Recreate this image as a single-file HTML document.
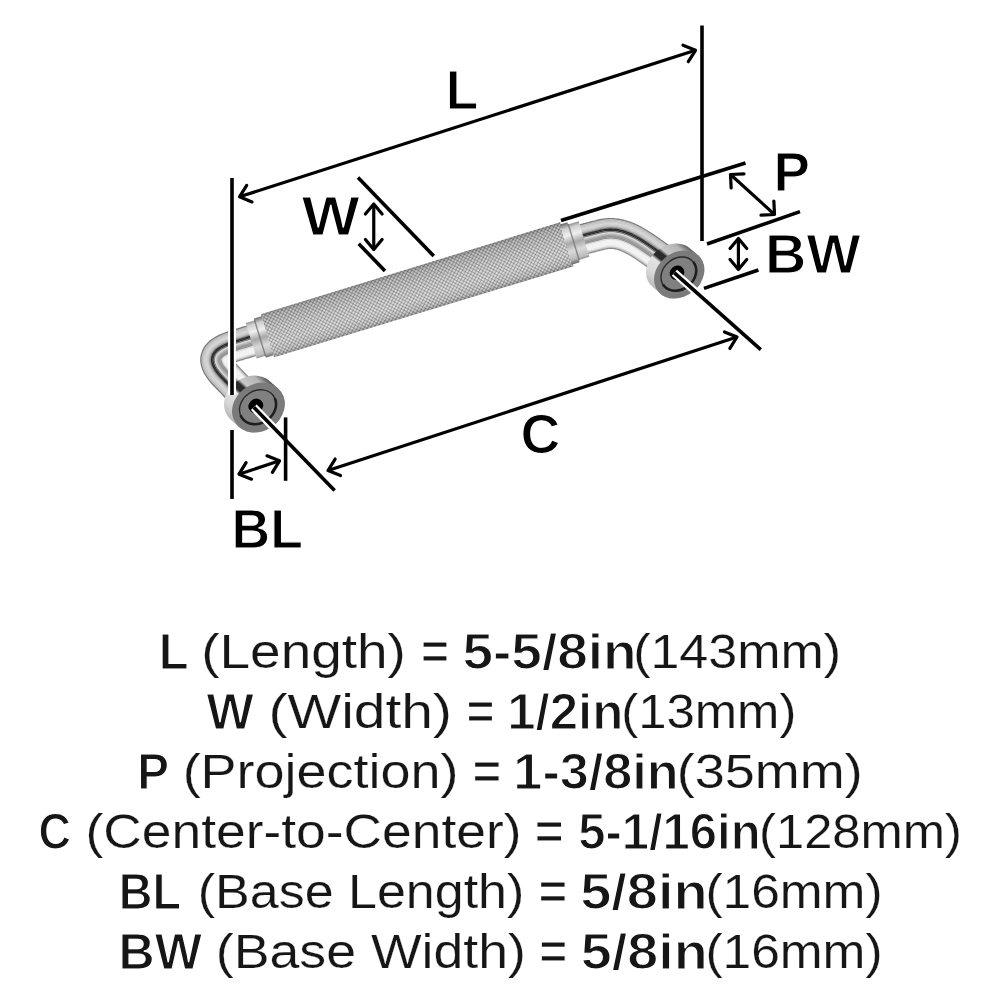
<!DOCTYPE html>
<html><head><meta charset="utf-8"><style>
html,body{margin:0;padding:0;background:#fff;}
svg{display:block;}
text{font-family:"Liberation Sans",sans-serif;}
</style></head><body>
<svg width="1000" height="1000" viewBox="0 0 1000 1000">
<rect width="1000" height="1000" fill="#fff"/>
<defs>
  <linearGradient id="knurlG" x1="0" y1="-23" x2="0" y2="23" gradientUnits="userSpaceOnUse">
    <stop offset="0" stop-color="#8c8c8c"/>
    <stop offset="0.1" stop-color="#b4b4b4"/>
    <stop offset="0.4" stop-color="#cdcdcd"/>
    <stop offset="0.7" stop-color="#d6d6d6"/>
    <stop offset="0.9" stop-color="#c4c4c4"/>
    <stop offset="1" stop-color="#929292"/>
  </linearGradient>
  <pattern id="knurlP" width="3" height="3" patternUnits="userSpaceOnUse" patternTransform="rotate(45)">
    <rect x="0" y="0" width="0.9" height="3" fill="#000" fill-opacity="0.22"/>
    <rect x="0" y="0" width="3" height="0.9" fill="#000" fill-opacity="0.22"/>
    <circle cx="1.95" cy="1.95" r="0.75" fill="#fff" fill-opacity="0.45"/>
  </pattern>
  <linearGradient id="collarG" x1="0" y1="-20" x2="0" y2="20" gradientUnits="userSpaceOnUse">
    <stop offset="0" stop-color="#777"/>
    <stop offset="0.12" stop-color="#cfcfcf"/>
    <stop offset="0.3" stop-color="#f0f0f0"/>
    <stop offset="0.5" stop-color="#a8a8a8"/>
    <stop offset="0.7" stop-color="#dadada"/>
    <stop offset="0.9" stop-color="#bdbdbd"/>
    <stop offset="1" stop-color="#777"/>
  </linearGradient>
  <linearGradient id="capSideL" x1="236" y1="424" x2="272" y2="384" gradientUnits="userSpaceOnUse">
    <stop offset="0" stop-color="#b8b8b8"/>
    <stop offset="0.2" stop-color="#d8d8d8"/>
    <stop offset="0.44" stop-color="#e2e2e2"/>
    <stop offset="0.5" stop-color="#2a2a2a"/>
    <stop offset="0.6" stop-color="#2a2a2a"/>
    <stop offset="0.66" stop-color="#c8c8c8"/>
    <stop offset="0.88" stop-color="#b4b4b4"/>
    <stop offset="1" stop-color="#5a5a5a"/>
  </linearGradient>
  <linearGradient id="capSideR" x1="658" y1="292" x2="692" y2="250" gradientUnits="userSpaceOnUse">
    <stop offset="0" stop-color="#b8b8b8"/>
    <stop offset="0.2" stop-color="#d8d8d8"/>
    <stop offset="0.44" stop-color="#e2e2e2"/>
    <stop offset="0.5" stop-color="#2a2a2a"/>
    <stop offset="0.6" stop-color="#2a2a2a"/>
    <stop offset="0.66" stop-color="#c8c8c8"/>
    <stop offset="0.88" stop-color="#b4b4b4"/>
    <stop offset="1" stop-color="#5a5a5a"/>
  </linearGradient>
</defs>
<polygon points="248.5,324.9 246.9,325.4 245.4,325.9 243.8,326.3 242.3,326.8 240.7,327.3 239.2,327.8 237.6,328.2 236.1,328.7 234.5,329.2 234.7,329.1 232.7,329.7 230.8,330.3 228.9,331 227,331.6 225.2,332.2 223.5,332.9 221.8,333.6 220.1,334.3 218.4,335.1 216.8,335.9 215.2,336.8 213.7,337.7 212.1,338.7 210.6,339.8 209.1,341.1 207.6,342.4 206.2,344 204.8,345.7 203.6,347.6 202.5,349.6 201.6,351.9 200.9,354.2 200.4,356.6 200.2,359 200.2,361.4 200.5,363.6 200.9,365.8 201.5,367.8 202.2,369.8 203,371.6 203.9,373.4 204.8,375 205.8,376.6 206.9,378.2 208,379.7 209.2,381.2 210.4,382.7 211.7,384.2 213.1,385.7 214.5,387.2 214.5,387.1 215.5,388.2 216.5,389.3 217.6,390.3 218.6,391.4 219.7,392.5 220.7,393.6 221.8,394.7 222.8,395.8 223.8,396.9 224.9,398 225.9,399 227,400.1 228,401.2 229.1,402.3 230.1,403.4 231.2,404.5 232.2,405.6 233.2,406.6 234.3,407.7 235.3,408.8 236.4,409.9 237.4,411 238.5,412.1 239.7,410.9 238.6,409.8 237.6,408.7 236.5,407.7 235.5,406.6 234.5,405.5 233.4,404.4 232.4,403.3 231.3,402.2 230.3,401.1 229.2,400 228.2,399 227.2,397.9 226.1,396.8 225.1,395.7 224,394.6 223,393.5 221.9,392.4 220.9,391.3 219.8,390.3 218.8,389.2 217.8,388.1 216.7,387 215.7,385.9 215.7,386 214.3,384.5 213,383.1 211.7,381.6 210.5,380.1 209.3,378.7 208.3,377.2 207.2,375.7 206.2,374.2 205.3,372.6 204.5,370.9 203.8,369.2 203.1,367.3 202.6,365.4 202.2,363.4 201.9,361.3 201.9,359.1 202.1,356.8 202.5,354.6 203.2,352.4 204,350.4 205,348.4 206.2,346.7 207.5,345.1 208.8,343.6 210.2,342.3 211.6,341.2 213.1,340.1 214.6,339.1 216.1,338.2 217.6,337.4 219.2,336.6 220.8,335.8 222.4,335.1 224.1,334.5 225.8,333.8 227.6,333.2 229.4,332.5 231.3,331.9 233.2,331.3 235.2,330.8 235,330.8 236.6,330.3 238.1,329.9 239.7,329.4 241.2,328.9 242.8,328.4 244.3,327.9 245.9,327.5 247.4,327 249,326.5" fill="#7c7c7c"/>
<polygon points="248.9,326.2 247.3,326.7 245.8,327.1 244.2,327.6 242.7,328.1 241.1,328.6 239.6,329 238,329.5 236.4,330 234.9,330.5 235.1,330.4 233.1,331 231.2,331.6 229.3,332.2 227.5,332.8 225.7,333.5 224,334.1 222.3,334.8 220.6,335.5 219,336.3 217.5,337.1 215.9,337.9 214.4,338.8 212.9,339.8 211.4,340.9 210,342.1 208.6,343.4 207.2,344.8 205.9,346.5 204.7,348.3 203.7,350.2 202.8,352.3 202.2,354.5 201.7,356.8 201.5,359 201.6,361.3 201.8,363.4 202.2,365.5 202.8,367.4 203.4,369.3 204.2,371 205,372.7 205.9,374.3 206.9,375.9 208,377.4 209.1,378.9 210.2,380.4 211.5,381.8 212.7,383.3 214.1,384.8 215.5,386.2 215.4,386.2 216.5,387.2 217.5,388.3 218.6,389.4 219.6,390.5 220.6,391.6 221.7,392.7 222.7,393.8 223.8,394.9 224.8,395.9 225.9,397 226.9,398.1 227.9,399.2 229,400.3 230,401.4 231.1,402.5 232.1,403.5 233.2,404.6 234.2,405.7 235.2,406.8 236.3,407.9 237.3,409 238.4,410.1 239.4,411.2 240.6,410 239.6,408.9 238.5,407.8 237.5,406.7 236.5,405.6 235.4,404.6 234.4,403.5 233.3,402.4 232.3,401.3 231.2,400.2 230.2,399.1 229.2,398 228.1,396.9 227.1,395.9 226,394.8 225,393.7 223.9,392.6 222.9,391.5 221.9,390.4 220.8,389.3 219.8,388.3 218.7,387.2 217.7,386.1 216.6,385 216.7,385.1 215.3,383.6 214,382.2 212.7,380.7 211.5,379.3 210.4,377.9 209.3,376.4 208.3,375 207.4,373.5 206.5,371.9 205.7,370.3 205,368.7 204.4,366.9 203.9,365.1 203.5,363.2 203.3,361.2 203.2,359.1 203.4,357 203.8,354.9 204.4,352.9 205.2,350.9 206.2,349.1 207.3,347.5 208.5,345.9 209.8,344.6 211.1,343.3 212.4,342.2 213.8,341.2 215.3,340.2 216.7,339.4 218.2,338.6 219.8,337.8 221.3,337.1 222.9,336.4 224.6,335.7 226.3,335.1 228,334.4 229.8,333.8 231.7,333.2 233.6,332.6 235.6,332 235.4,332.1 236.9,331.6 238.5,331.1 240.1,330.7 241.6,330.2 243.2,329.7 244.7,329.2 246.3,328.7 247.8,328.3 249.4,327.8" fill="#bdbdbd"/>
<polygon points="249.3,327.5 247.7,327.9 246.2,328.4 244.6,328.9 243.1,329.4 241.5,329.8 240,330.3 238.4,330.8 236.8,331.3 235.3,331.8 235.5,331.7 233.5,332.3 231.6,332.9 229.7,333.5 227.9,334.1 226.2,334.7 224.5,335.4 222.8,336 221.2,336.7 219.6,337.5 218.1,338.2 216.6,339.1 215.1,339.9 213.6,340.9 212.2,341.9 210.8,343.1 209.5,344.3 208.2,345.7 207,347.3 205.9,348.9 204.9,350.8 204.1,352.8 203.5,354.8 203.1,357 202.9,359.1 202.9,361.2 203.1,363.2 203.5,365.2 204,367 204.7,368.8 205.4,370.5 206.2,372.1 207.1,373.6 208,375.2 209.1,376.6 210.1,378.1 211.3,379.5 212.5,381 213.7,382.4 215.1,383.8 216.4,385.3 216.4,385.2 217.4,386.3 218.5,387.4 219.5,388.5 220.6,389.6 221.6,390.7 222.6,391.8 223.7,392.8 224.7,393.9 225.8,395 226.8,396.1 227.9,397.2 228.9,398.3 229.9,399.4 231,400.5 232,401.5 233.1,402.6 234.1,403.7 235.2,404.8 236.2,405.9 237.3,407 238.3,408.1 239.3,409.1 240.4,410.2 241.6,409.1 240.6,408 239.5,406.9 238.5,405.8 237.4,404.7 236.4,403.6 235.3,402.5 234.3,401.5 233.2,400.4 232.2,399.3 231.2,398.2 230.1,397.1 229.1,396 228,394.9 227,393.9 225.9,392.8 224.9,391.7 223.9,390.6 222.8,389.5 221.8,388.4 220.7,387.3 219.7,386.2 218.6,385.2 217.6,384.1 217.6,384.1 216.3,382.7 215,381.3 213.7,379.9 212.6,378.5 211.5,377.1 210.4,375.7 209.4,374.2 208.5,372.8 207.7,371.3 206.9,369.8 206.2,368.2 205.6,366.5 205.1,364.8 204.8,363 204.6,361.1 204.6,359.1 204.7,357.2 205.1,355.2 205.7,353.3 206.4,351.5 207.3,349.8 208.4,348.2 209.5,346.8 210.7,345.5 212,344.3 213.3,343.3 214.6,342.3 216,341.4 217.4,340.5 218.8,339.7 220.3,339 221.9,338.3 223.4,337.6 225.1,336.9 226.7,336.3 228.5,335.7 230.3,335.1 232.1,334.5 234,333.9 235.9,333.3 235.8,333.4 237.3,332.9 238.9,332.4 240.4,331.9 242,331.5 243.6,331 245.1,330.5 246.7,330 248.2,329.5 249.8,329.1" fill="#c6c6c6"/>
<polygon points="249.7,328.7 248.1,329.2 246.6,329.7 245,330.2 243.5,330.6 241.9,331.1 240.3,331.6 238.8,332.1 237.2,332.6 235.7,333 235.8,333 233.9,333.6 232,334.2 230.1,334.7 228.4,335.4 226.6,336 224.9,336.6 223.3,337.3 221.7,338 220.2,338.7 218.7,339.4 217.2,340.2 215.8,341.1 214.4,342 213,343 211.7,344.1 210.4,345.3 209.2,346.6 208.1,348 207,349.6 206.1,351.4 205.3,353.2 204.8,355.1 204.4,357.1 204.2,359.1 204.2,361.1 204.4,363 204.8,364.9 205.3,366.6 205.9,368.3 206.6,369.9 207.4,371.5 208.2,373 209.2,374.4 210.1,375.9 211.2,377.3 212.3,378.7 213.5,380.1 214.7,381.5 216,382.9 217.4,384.4 217.3,384.3 218.4,385.4 219.4,386.5 220.5,387.6 221.5,388.7 222.6,389.7 223.6,390.8 224.6,391.9 225.7,393 226.7,394.1 227.8,395.2 228.8,396.3 229.9,397.4 230.9,398.4 232,399.5 233,400.6 234,401.7 235.1,402.8 236.1,403.9 237.2,405 238.2,406 239.3,407.1 240.3,408.2 241.3,409.3 242.6,408.1 241.5,407.1 240.5,406 239.4,404.9 238.4,403.8 237.3,402.7 236.3,401.6 235.3,400.5 234.2,399.4 233.2,398.4 232.1,397.3 231.1,396.2 230,395.1 229,394 227.9,392.9 226.9,391.8 225.9,390.8 224.8,389.7 223.8,388.6 222.7,387.5 221.7,386.4 220.6,385.3 219.6,384.2 218.6,383.1 218.6,383.2 217.3,381.8 216,380.4 214.8,379 213.6,377.6 212.5,376.3 211.5,374.9 210.6,373.5 209.7,372.1 208.9,370.7 208.1,369.2 207.5,367.7 206.9,366.1 206.4,364.5 206.1,362.8 205.9,361 205.9,359.2 206,357.4 206.4,355.5 206.9,353.8 207.6,352.1 208.5,350.5 209.4,349 210.5,347.7 211.6,346.5 212.8,345.3 214.1,344.3 215.4,343.4 216.7,342.5 218.1,341.7 219.5,340.9 220.9,340.2 222.4,339.5 224,338.8 225.6,338.2 227.2,337.6 228.9,336.9 230.7,336.3 232.5,335.8 234.4,335.2 236.3,334.6 236.2,334.6 237.7,334.2 239.3,333.7 240.8,333.2 242.4,332.7 243.9,332.2 245.5,331.8 247.1,331.3 248.6,330.8 250.2,330.3" fill="#cecece"/>
<polygon points="250.1,330 248.5,330.5 247,331 245.4,331.4 243.8,331.9 242.3,332.4 240.7,332.9 239.2,333.3 237.6,333.8 236.1,334.3 236.2,334.3 234.3,334.8 232.4,335.4 230.6,336 228.8,336.6 227.1,337.2 225.4,337.9 223.8,338.5 222.3,339.2 220.8,339.9 219.3,340.6 217.9,341.4 216.5,342.2 215.2,343.1 213.9,344 212.6,345.1 211.4,346.2 210.2,347.5 209.2,348.8 208.2,350.3 207.3,351.9 206.6,353.7 206,355.5 205.7,357.3 205.5,359.2 205.6,361 205.8,362.8 206.1,364.6 206.6,366.2 207.1,367.8 207.8,369.3 208.6,370.8 209.4,372.3 210.3,373.7 211.2,375.1 212.2,376.5 213.3,377.8 214.5,379.2 215.7,380.6 217,382 218.4,383.4 218.3,383.4 219.3,384.5 220.4,385.6 221.4,386.6 222.5,387.7 223.5,388.8 224.6,389.9 225.6,391 226.7,392.1 227.7,393.2 228.7,394.3 229.8,395.3 230.8,396.4 231.9,397.5 232.9,398.6 234,399.7 235,400.8 236,401.9 237.1,403 238.1,404 239.2,405.1 240.2,406.2 241.3,407.3 242.3,408.4 243.5,407.2 242.5,406.1 241.4,405 240.4,404 239.3,402.9 238.3,401.8 237.3,400.7 236.2,399.6 235.2,398.5 234.1,397.4 233.1,396.4 232,395.3 231,394.2 230,393.1 228.9,392 227.9,390.9 226.8,389.8 225.8,388.7 224.7,387.7 223.7,386.6 222.6,385.5 221.6,384.4 220.6,383.3 219.5,382.2 219.6,382.3 218.2,380.9 217,379.5 215.8,378.1 214.6,376.8 213.6,375.4 212.6,374.1 211.7,372.8 210.8,371.4 210,370 209.3,368.6 208.7,367.2 208.2,365.7 207.7,364.2 207.4,362.6 207.2,360.9 207.2,359.2 207.4,357.5 207.7,355.9 208.2,354.2 208.8,352.6 209.6,351.2 210.5,349.8 211.5,348.6 212.6,347.4 213.7,346.3 214.9,345.4 216.1,344.5 217.4,343.6 218.7,342.8 220.1,342.1 221.5,341.4 223,340.7 224.5,340.1 226,339.4 227.7,338.8 229.3,338.2 231.1,337.6 232.9,337 234.8,336.4 236.7,335.9 236.6,335.9 238.1,335.4 239.7,335 241.2,334.5 242.8,334 244.3,333.5 245.9,333 247.5,332.6 249,332.1 250.6,331.6" fill="#d6d6d6"/>
<polygon points="250.5,331.3 248.9,331.8 247.3,332.2 245.8,332.7 244.2,333.2 242.7,333.7 241.1,334.1 239.6,334.6 238,335.1 236.5,335.6 236.6,335.5 234.7,336.1 232.8,336.7 231,337.3 229.2,337.9 227.5,338.5 225.9,339.1 224.3,339.7 222.8,340.4 221.3,341.1 219.9,341.8 218.5,342.5 217.2,343.3 215.9,344.2 214.7,345.1 213.5,346.1 212.3,347.2 211.2,348.3 210.2,349.6 209.3,351 208.5,352.5 207.8,354.1 207.3,355.8 207,357.5 206.9,359.2 206.9,360.9 207.1,362.6 207.4,364.2 207.8,365.8 208.4,367.3 209,368.8 209.7,370.2 210.5,371.6 211.4,373 212.3,374.3 213.3,375.7 214.4,377 215.5,378.4 216.7,379.7 218,381.1 219.3,382.5 219.3,382.5 220.3,383.6 221.4,384.6 222.4,385.7 223.4,386.8 224.5,387.9 225.5,389 226.6,390.1 227.6,391.2 228.7,392.2 229.7,393.3 230.7,394.4 231.8,395.5 232.8,396.6 233.9,397.7 234.9,398.8 236,399.9 237,400.9 238,402 239.1,403.1 240.1,404.2 241.2,405.3 242.2,406.4 243.3,407.5 244.5,406.3 243.4,405.2 242.4,404.1 241.4,403 240.3,402 239.3,400.9 238.2,399.8 237.2,398.7 236.1,397.6 235.1,396.5 234,395.4 233,394.3 232,393.3 230.9,392.2 229.9,391.1 228.8,390 227.8,388.9 226.7,387.8 225.7,386.7 224.7,385.6 223.6,384.6 222.6,383.5 221.5,382.4 220.5,381.3 220.5,381.3 219.2,380 218,378.6 216.8,377.3 215.7,375.9 214.6,374.6 213.7,373.3 212.8,372 212,370.7 211.2,369.4 210.5,368.1 209.9,366.7 209.4,365.3 209,363.8 208.7,362.4 208.6,360.8 208.6,359.3 208.7,357.7 209,356.2 209.4,354.7 210,353.2 210.8,351.9 211.6,350.6 212.5,349.4 213.5,348.3 214.6,347.4 215.7,346.4 216.9,345.6 218.1,344.8 219.4,344 220.7,343.3 222.1,342.6 223.5,341.9 225,341.3 226.5,340.7 228.1,340.1 229.8,339.5 231.5,338.9 233.3,338.3 235.1,337.7 237.1,337.2 237,337.2 238.5,336.7 240.1,336.2 241.6,335.8 243.2,335.3 244.7,334.8 246.3,334.3 247.8,333.8 249.4,333.4 251,332.9" fill="#cccccc"/>
<polygon points="250.9,332.6 249.3,333 247.7,333.5 246.2,334 244.6,334.5 243.1,334.9 241.5,335.4 240,335.9 238.4,336.4 236.9,336.9 237,336.8 235,337.4 233.2,338 231.4,338.5 229.7,339.1 228,339.7 226.4,340.3 224.9,341 223.4,341.6 221.9,342.3 220.5,343 219.2,343.7 217.9,344.5 216.7,345.3 215.5,346.2 214.4,347.1 213.3,348.1 212.3,349.2 211.3,350.4 210.5,351.7 209.7,353.1 209.1,354.5 208.6,356.1 208.3,357.7 208.2,359.3 208.2,360.9 208.4,362.4 208.7,363.9 209.1,365.4 209.6,366.8 210.2,368.2 210.9,369.6 211.7,370.9 212.5,372.2 213.4,373.5 214.4,374.8 215.4,376.2 216.5,377.5 217.7,378.8 218.9,380.2 220.3,381.6 220.2,381.5 221.3,382.6 222.3,383.7 223.4,384.8 224.4,385.9 225.4,387 226.5,388.1 227.5,389.1 228.6,390.2 229.6,391.3 230.7,392.4 231.7,393.5 232.8,394.6 233.8,395.7 234.8,396.8 235.9,397.8 236.9,398.9 238,400 239,401.1 240.1,402.2 241.1,403.3 242.1,404.4 243.2,405.5 244.2,406.5 245.4,405.4 244.4,404.3 243.4,403.2 242.3,402.1 241.3,401 240.2,399.9 239.2,398.9 238.1,397.8 237.1,396.7 236.1,395.6 235,394.5 234,393.4 232.9,392.3 231.9,391.2 230.8,390.2 229.8,389.1 228.7,388 227.7,386.9 226.7,385.8 225.6,384.7 224.6,383.6 223.5,382.5 222.5,381.5 221.4,380.4 221.5,380.4 220.2,379 218.9,377.7 217.8,376.4 216.7,375.1 215.7,373.8 214.8,372.6 213.9,371.3 213.1,370 212.4,368.8 211.7,367.5 211.2,366.2 210.7,364.9 210.3,363.5 210.1,362.2 209.9,360.8 209.9,359.3 210,357.9 210.3,356.5 210.7,355.1 211.2,353.8 211.9,352.5 212.7,351.4 213.5,350.3 214.5,349.3 215.5,348.4 216.5,347.5 217.6,346.7 218.8,345.9 220,345.2 221.3,344.5 222.7,343.8 224,343.1 225.5,342.5 227,341.9 228.6,341.3 230.2,340.7 231.9,340.1 233.7,339.6 235.5,339 237.4,338.4 237.3,338.5 238.9,338 240.5,337.5 242,337 243.6,336.6 245.1,336.1 246.7,335.6 248.2,335.1 249.8,334.6 251.3,334.2" fill="#bcbcbc"/>
<polygon points="251.2,333.8 249.7,334.3 248.1,334.8 246.6,335.3 245,335.7 243.5,336.2 241.9,336.7 240.4,337.2 238.8,337.6 237.2,338.1 237.3,338.1 235.4,338.7 233.6,339.2 231.8,339.8 230.1,340.4 228.5,341 226.9,341.6 225.4,342.2 223.9,342.8 222.5,343.5 221.2,344.2 219.9,344.9 218.6,345.6 217.4,346.4 216.3,347.2 215.2,348.1 214.2,349 213.3,350.1 212.4,351.2 211.6,352.4 210.9,353.6 210.4,355 209.9,356.4 209.7,357.9 209.5,359.3 209.6,360.8 209.7,362.2 210,363.6 210.4,365 210.9,366.3 211.4,367.6 212.1,368.9 212.8,370.2 213.6,371.5 214.5,372.8 215.4,374 216.4,375.3 217.5,376.6 218.7,377.9 219.9,379.3 221.2,380.6 221.2,380.6 222.2,381.7 223.3,382.8 224.3,383.9 225.4,385 226.4,386.1 227.5,387.1 228.5,388.2 229.5,389.3 230.6,390.4 231.6,391.5 232.7,392.6 233.7,393.7 234.8,394.7 235.8,395.8 236.8,396.9 237.9,398 238.9,399.1 240,400.2 241,401.3 242.1,402.4 243.1,403.4 244.1,404.5 245.2,405.6 246.4,404.5 245.4,403.4 244.3,402.3 243.3,401.2 242.2,400.1 241.2,399 240.1,397.9 239.1,396.8 238.1,395.8 237,394.7 236,393.6 234.9,392.5 233.9,391.4 232.8,390.3 231.8,389.2 230.8,388.1 229.7,387.1 228.7,386 227.6,384.9 226.6,383.8 225.5,382.7 224.5,381.6 223.4,380.5 222.4,379.5 222.4,379.5 221.1,378.1 219.9,376.8 218.8,375.5 217.7,374.3 216.8,373 215.9,371.8 215,370.6 214.3,369.4 213.6,368.1 213,366.9 212.4,365.7 212,364.5 211.6,363.2 211.4,362 211.2,360.7 211.2,359.4 211.3,358.1 211.6,356.8 211.9,355.6 212.4,354.4 213,353.2 213.7,352.2 214.5,351.2 215.4,350.2 216.3,349.4 217.3,348.5 218.4,347.8 219.5,347 220.7,346.3 221.9,345.6 223.2,345 224.6,344.4 226,343.7 227.5,343.1 229.1,342.6 230.7,342 232.4,341.4 234.1,340.8 235.9,340.3 237.8,339.7 237.7,339.7 239.3,339.3 240.8,338.8 242.4,338.3 244,337.8 245.5,337.3 247.1,336.9 248.6,336.4 250.2,335.9 251.7,335.4" fill="#8f8f8f"/>
<polygon points="251.6,335.1 250.1,335.6 248.5,336.1 247,336.5 245.4,337 243.9,337.5 242.3,338 240.7,338.4 239.2,338.9 237.6,339.4 237.7,339.4 235.8,339.9 234,340.5 232.2,341.1 230.6,341.6 228.9,342.2 227.4,342.8 225.9,343.4 224.5,344 223.1,344.7 221.8,345.3 220.5,346 219.3,346.7 218.2,347.5 217.1,348.3 216.1,349.1 215.2,350 214.3,350.9 213.5,352 212.7,353.1 212.1,354.2 211.6,355.4 211.2,356.7 211,358 210.9,359.4 210.9,360.7 211,362 211.3,363.3 211.6,364.6 212.1,365.8 212.6,367.1 213.3,368.3 214,369.5 214.7,370.8 215.6,372 216.5,373.2 217.5,374.5 218.5,375.8 219.7,377 220.9,378.4 222.2,379.7 222.2,379.7 223.2,380.8 224.2,381.9 225.3,383 226.3,384 227.4,385.1 228.4,386.2 229.5,387.3 230.5,388.4 231.5,389.5 232.6,390.6 233.6,391.7 234.7,392.7 235.7,393.8 236.8,394.9 237.8,396 238.8,397.1 239.9,398.2 240.9,399.3 242,400.3 243,401.4 244.1,402.5 245.1,403.6 246.2,404.7 247.4,403.5 246.3,402.4 245.3,401.4 244.2,400.3 243.2,399.2 242.1,398.1 241.1,397 240.1,395.9 239,394.8 238,393.7 236.9,392.7 235.9,391.6 234.8,390.5 233.8,389.4 232.8,388.3 231.7,387.2 230.7,386.1 229.6,385 228.6,384 227.5,382.9 226.5,381.8 225.5,380.7 224.4,379.6 223.4,378.5 223.4,378.5 222.1,377.2 220.9,375.9 219.8,374.7 218.8,373.4 217.8,372.2 216.9,371 216.1,369.8 215.4,368.7 214.7,367.5 214.2,366.4 213.7,365.2 213.3,364.1 212.9,362.9 212.7,361.8 212.6,360.6 212.6,359.4 212.7,358.3 212.9,357.1 213.2,356 213.6,354.9 214.2,353.9 214.8,352.9 215.6,352 216.4,351.2 217.2,350.4 218.2,349.6 219.2,348.9 220.2,348.2 221.4,347.5 222.6,346.8 223.8,346.2 225.1,345.6 226.5,345 228,344.4 229.5,343.8 231.1,343.2 232.8,342.7 234.5,342.1 236.3,341.6 238.2,341 238.1,341 239.7,340.5 241.2,340.1 242.8,339.6 244.4,339.1 245.9,338.6 247.5,338.1 249,337.7 250.6,337.2 252.1,336.7" fill="#2e2e2e"/>
<polygon points="252,336.4 250.5,336.9 248.9,337.3 247.4,337.8 245.8,338.3 244.2,338.8 242.7,339.2 241.1,339.7 239.6,340.2 238,340.7 238.1,340.7 236.2,341.2 234.4,341.8 232.7,342.3 231,342.9 229.4,343.5 227.9,344.1 226.4,344.7 225,345.3 223.7,345.9 222.4,346.5 221.2,347.2 220,347.9 219,348.6 217.9,349.3 217,350.1 216.1,350.9 215.3,351.8 214.5,352.7 213.9,353.7 213.3,354.8 212.9,355.9 212.5,357 212.3,358.2 212.2,359.4 212.2,360.6 212.4,361.8 212.6,363 212.9,364.2 213.3,365.3 213.8,366.5 214.4,367.7 215.1,368.8 215.8,370 216.7,371.2 217.5,372.4 218.5,373.6 219.6,374.9 220.7,376.2 221.9,377.5 223.1,378.8 223.1,378.8 224.2,379.9 225.2,380.9 226.2,382 227.3,383.1 228.3,384.2 229.4,385.3 230.4,386.4 231.5,387.5 232.5,388.6 233.5,389.6 234.6,390.7 235.6,391.8 236.7,392.9 237.7,394 238.8,395.1 239.8,396.2 240.9,397.2 241.9,398.3 242.9,399.4 244,400.5 245,401.6 246.1,402.7 247.1,403.8 248.3,402.6 247.3,401.5 246.2,400.4 245.2,399.3 244.2,398.3 243.1,397.2 242.1,396.1 241,395 240,393.9 238.9,392.8 237.9,391.7 236.9,390.6 235.8,389.6 234.8,388.5 233.7,387.4 232.7,386.3 231.6,385.2 230.6,384.1 229.5,383 228.5,382 227.5,380.9 226.4,379.8 225.4,378.7 224.3,377.6 224.3,377.6 223.1,376.3 221.9,375 220.8,373.8 219.8,372.6 218.9,371.4 218,370.2 217.2,369.1 216.5,368 215.9,366.9 215.4,365.8 214.9,364.7 214.5,363.7 214.2,362.6 214,361.6 213.9,360.5 213.9,359.5 214,358.4 214.2,357.4 214.5,356.5 214.8,355.5 215.3,354.6 215.9,353.7 216.6,352.9 217.3,352.1 218.1,351.4 219,350.6 219.9,350 220.9,349.3 222,348.6 223.2,348 224.4,347.4 225.7,346.8 227,346.2 228.5,345.6 230,345.1 231.5,344.5 233.2,343.9 234.9,343.4 236.7,342.8 238.6,342.3 238.5,342.3 240.1,341.8 241.6,341.3 243.2,340.9 244.7,340.4 246.3,339.9 247.9,339.4 249.4,338.9 251,338.5 252.5,338" fill="#2e2e2e"/>
<polygon points="252.4,337.7 250.9,338.1 249.3,338.6 247.8,339.1 246.2,339.6 244.6,340 243.1,340.5 241.5,341 240,341.5 238.4,342 238.5,341.9 236.6,342.5 234.8,343 233.1,343.6 231.4,344.2 229.9,344.7 228.3,345.3 226.9,345.9 225.5,346.5 224.2,347.1 223,347.7 221.8,348.3 220.8,349 219.7,349.7 218.8,350.4 217.9,351.1 217,351.9 216.3,352.7 215.6,353.5 215,354.4 214.5,355.4 214.1,356.3 213.8,357.3 213.6,358.4 213.5,359.5 213.6,360.5 213.7,361.6 213.9,362.7 214.2,363.8 214.6,364.9 215.1,365.9 215.6,367 216.2,368.2 216.9,369.3 217.7,370.4 218.6,371.6 219.5,372.8 220.6,374 221.7,375.3 222.8,376.5 224.1,377.9 224.1,377.8 225.1,378.9 226.2,380 227.2,381.1 228.3,382.2 229.3,383.3 230.3,384.4 231.4,385.5 232.4,386.5 233.5,387.6 234.5,388.7 235.6,389.8 236.6,390.9 237.6,392 238.7,393.1 239.7,394.2 240.8,395.2 241.8,396.3 242.9,397.4 243.9,398.5 244.9,399.6 246,400.7 247,401.8 248.1,402.8 249.3,401.7 248.2,400.6 247.2,399.5 246.2,398.4 245.1,397.3 244.1,396.2 243,395.2 242,394.1 240.9,393 239.9,391.9 238.9,390.8 237.8,389.7 236.8,388.6 235.7,387.6 234.7,386.5 233.6,385.4 232.6,384.3 231.6,383.2 230.5,382.1 229.5,381 228.4,379.9 227.4,378.9 226.3,377.8 225.3,376.7 225.3,376.7 224.1,375.4 222.9,374.1 221.8,372.9 220.9,371.7 219.9,370.6 219.1,369.5 218.4,368.4 217.7,367.3 217.1,366.2 216.6,365.2 216.1,364.2 215.8,363.3 215.5,362.3 215.3,361.3 215.2,360.4 215.2,359.5 215.3,358.6 215.5,357.7 215.7,356.9 216.1,356.1 216.5,355.3 217,354.5 217.6,353.8 218.2,353.1 219,352.4 219.8,351.7 220.7,351 221.6,350.4 222.7,349.8 223.8,349.2 225,348.6 226.2,348 227.6,347.4 229,346.9 230.4,346.3 232,345.8 233.6,345.2 235.3,344.7 237.1,344.1 238.9,343.6 238.9,343.6 240.5,343.1 242,342.6 243.6,342.1 245.1,341.6 246.7,341.2 248.2,340.7 249.8,340.2 251.4,339.7 252.9,339.3" fill="#7f7f7f"/>
<polygon points="252.8,338.9 251.3,339.4 249.7,339.9 248.1,340.4 246.6,340.8 245,341.3 243.5,341.8 241.9,342.3 240.4,342.7 238.8,343.2 238.8,343.2 237,343.8 235.2,344.3 233.5,344.9 231.9,345.4 230.3,346 228.8,346.5 227.4,347.1 226.1,347.7 224.8,348.3 223.6,348.9 222.5,349.5 221.5,350.1 220.5,350.8 219.6,351.4 218.7,352.1 218,352.8 217.3,353.5 216.7,354.3 216.2,355.1 215.7,355.9 215.4,356.8 215.1,357.7 214.9,358.6 214.9,359.5 214.9,360.4 215,361.4 215.2,362.4 215.5,363.4 215.8,364.4 216.3,365.4 216.8,366.4 217.4,367.5 218.1,368.6 218.8,369.7 219.7,370.8 220.6,372 221.6,373.1 222.7,374.4 223.8,375.6 225,376.9 225,376.9 226.1,378 227.1,379.1 228.2,380.2 229.2,381.3 230.3,382.4 231.3,383.4 232.3,384.5 233.4,385.6 234.4,386.7 235.5,387.8 236.5,388.9 237.6,390 238.6,391.1 239.6,392.1 240.7,393.2 241.7,394.3 242.8,395.4 243.8,396.5 244.9,397.6 245.9,398.7 247,399.7 248,400.8 249,401.9 250.3,400.8 249.2,399.7 248.2,398.6 247.1,397.5 246.1,396.4 245,395.3 244,394.2 242.9,393.1 241.9,392.1 240.9,391 239.8,389.9 238.8,388.8 237.7,387.7 236.7,386.6 235.6,385.5 234.6,384.5 233.6,383.4 232.5,382.3 231.5,381.2 230.4,380.1 229.4,379 228.3,377.9 227.3,376.8 226.3,375.8 226.3,375.8 225,374.5 223.9,373.3 222.9,372.1 221.9,370.9 221,369.8 220.2,368.7 219.5,367.6 218.8,366.6 218.3,365.6 217.8,364.7 217.4,363.7 217.1,362.8 216.8,362 216.6,361.1 216.6,360.3 216.6,359.6 216.6,358.8 216.8,358.1 217,357.3 217.3,356.7 217.6,356 218.1,355.3 218.6,354.6 219.2,354 219.9,353.4 220.6,352.8 221.4,352.1 222.4,351.5 223.3,351 224.4,350.4 225.6,349.8 226.8,349.2 228.1,348.7 229.4,348.1 230.9,347.6 232.4,347 234,346.5 235.7,345.9 237.5,345.4 239.3,344.8 239.3,344.8 240.9,344.4 242.4,343.9 244,343.4 245.5,342.9 247.1,342.4 248.6,342 250.2,341.5 251.7,341 253.3,340.5" fill="#d8d8d8"/>
<polygon points="253.2,340.2 251.6,340.7 250.1,341.2 248.5,341.6 247,342.1 245.4,342.6 243.9,343.1 242.3,343.5 240.8,344 239.2,344.5 239.2,344.5 237.4,345 235.6,345.6 233.9,346.1 232.3,346.7 230.8,347.2 229.3,347.8 227.9,348.3 226.6,348.9 225.4,349.5 224.2,350.1 223.2,350.7 222.2,351.2 221.2,351.9 220.4,352.5 219.6,353.1 218.9,353.8 218.3,354.4 217.8,355.1 217.3,355.8 216.9,356.5 216.6,357.2 216.4,358 216.3,358.8 216.2,359.5 216.2,360.4 216.3,361.2 216.5,362.1 216.7,363 217.1,363.9 217.5,364.8 218,365.8 218.5,366.8 219.2,367.8 219.9,368.9 220.7,370 221.6,371.1 222.6,372.3 223.6,373.5 224.8,374.7 226,376 226,376 227,377.1 228.1,378.2 229.1,379.3 230.2,380.3 231.2,381.4 232.3,382.5 233.3,383.6 234.3,384.7 235.4,385.8 236.4,386.9 237.5,388 238.5,389 239.6,390.1 240.6,391.2 241.7,392.3 242.7,393.4 243.7,394.5 244.8,395.6 245.8,396.7 246.9,397.7 247.9,398.8 249,399.9 250,401 251.2,399.8 250.2,398.7 249.1,397.7 248.1,396.6 247,395.5 246,394.4 245,393.3 243.9,392.2 242.9,391.1 241.8,390.1 240.8,389 239.7,387.9 238.7,386.8 237.6,385.7 236.6,384.6 235.6,383.5 234.5,382.4 233.5,381.4 232.4,380.3 231.4,379.2 230.3,378.1 229.3,377 228.3,375.9 227.2,374.8 227.2,374.8 226,373.6 224.9,372.4 223.9,371.2 222.9,370.1 222.1,369 221.3,367.9 220.6,366.9 220,365.9 219.4,365 219,364.1 218.6,363.2 218.3,362.4 218.1,361.7 218,360.9 217.9,360.3 217.9,359.6 217.9,359 218,358.4 218.2,357.8 218.5,357.2 218.8,356.7 219.1,356.1 219.6,355.5 220.1,354.9 220.7,354.4 221.4,353.8 222.2,353.2 223.1,352.7 224,352.1 225,351.6 226.1,351 227.3,350.4 228.6,349.9 229.9,349.4 231.4,348.8 232.9,348.3 234.5,347.7 236.1,347.2 237.9,346.7 239.7,346.1 239.7,346.1 241.2,345.6 242.8,345.2 244.4,344.7 245.9,344.2 247.5,343.7 249,343.2 250.6,342.8 252.1,342.3 253.7,341.8" fill="#bbbbbb"/>
<polygon points="253.6,341.5 252,342 250.5,342.4 248.9,342.9 247.4,343.4 245.8,343.9 244.3,344.3 242.7,344.8 241.1,345.3 239.6,345.8 239.6,345.8 237.8,346.3 236,346.9 234.3,347.4 232.8,347.9 231.2,348.5 229.8,349 228.5,349.6 227.2,350.1 226,350.7 224.9,351.2 223.8,351.8 222.9,352.4 222,353 221.2,353.5 220.5,354.1 219.9,354.7 219.3,355.3 218.9,355.9 218.5,356.5 218.1,357.1 217.9,357.7 217.7,358.3 217.6,358.9 217.5,359.6 217.5,360.3 217.6,361 217.8,361.8 218,362.5 218.3,363.4 218.7,364.2 219.1,365.2 219.7,366.1 220.3,367.1 221,368.1 221.8,369.2 222.6,370.3 223.6,371.4 224.6,372.6 225.8,373.8 227,375.1 227,375.1 228,376.2 229,377.3 230.1,378.3 231.1,379.4 232.2,380.5 233.2,381.6 234.3,382.7 235.3,383.8 236.4,384.9 237.4,385.9 238.4,387 239.5,388.1 240.5,389.2 241.6,390.3 242.6,391.4 243.7,392.5 244.7,393.6 245.7,394.6 246.8,395.7 247.8,396.8 248.9,397.9 249.9,399 251,400.1 252.2,398.9 251.1,397.8 250.1,396.7 249,395.6 248,394.6 247,393.5 245.9,392.4 244.9,391.3 243.8,390.2 242.8,389.1 241.7,388 240.7,387 239.7,385.9 238.6,384.8 237.6,383.7 236.5,382.6 235.5,381.5 234.4,380.4 233.4,379.3 232.4,378.3 231.3,377.2 230.3,376.1 229.2,375 228.2,373.9 228.2,373.9 227,372.7 225.9,371.5 224.9,370.3 224,369.2 223.1,368.2 222.4,367.1 221.7,366.2 221.1,365.2 220.6,364.4 220.2,363.5 219.9,362.8 219.6,362 219.4,361.4 219.3,360.7 219.2,360.2 219.2,359.6 219.3,359.2 219.3,358.7 219.5,358.2 219.7,357.8 219.9,357.3 220.2,356.9 220.6,356.4 221.1,355.9 221.6,355.4 222.2,354.9 223,354.3 223.8,353.8 224.7,353.3 225.6,352.7 226.7,352.2 227.9,351.7 229.1,351.1 230.4,350.6 231.8,350.1 233.3,349.5 234.9,349 236.5,348.5 238.2,347.9 240,347.4 240.1,347.4 241.6,346.9 243.2,346.4 244.8,346 246.3,345.5 247.9,345 249.4,344.5 251,344 252.5,343.6 254.1,343.1" fill="#9f9f9f"/>
<polygon points="254,342.7 252.4,343.2 250.9,343.7 249.3,344.2 247.8,344.7 246.2,345.1 244.6,345.6 243.1,346.1 241.5,346.6 240,347 239.9,347.1 238.1,347.6 236.4,348.1 234.8,348.7 233.2,349.2 231.7,349.7 230.3,350.3 229,350.8 227.7,351.3 226.6,351.9 225.5,352.4 224.5,353 223.6,353.5 222.8,354 222,354.6 221.4,355.1 220.8,355.6 220.3,356.2 219.9,356.7 219.6,357.2 219.3,357.6 219.1,358.1 219,358.6 218.9,359.1 218.9,359.6 218.9,360.2 218.9,360.8 219.1,361.4 219.3,362.1 219.5,362.9 219.9,363.7 220.3,364.5 220.8,365.4 221.4,366.4 222.1,367.3 222.8,368.4 223.7,369.4 224.6,370.5 225.6,371.7 226.7,372.9 227.9,374.1 227.9,374.2 229,375.2 230,376.3 231.1,377.4 232.1,378.5 233.1,379.6 234.2,380.7 235.2,381.8 236.3,382.8 237.3,383.9 238.4,385 239.4,386.1 240.4,387.2 241.5,388.3 242.5,389.4 243.6,390.5 244.6,391.5 245.7,392.6 246.7,393.7 247.7,394.8 248.8,395.9 249.8,397 250.9,398.1 251.9,399.2 253.1,398 252.1,396.9 251.1,395.8 250,394.7 249,393.6 247.9,392.6 246.9,391.5 245.8,390.4 244.8,389.3 243.7,388.2 242.7,387.1 241.7,386 240.6,384.9 239.6,383.9 238.5,382.8 237.5,381.7 236.4,380.6 235.4,379.5 234.4,378.4 233.3,377.3 232.3,376.2 231.2,375.2 230.2,374.1 229.1,373 229.1,373 228,371.7 226.9,370.6 225.9,369.5 225,368.4 224.2,367.3 223.4,366.4 222.8,365.4 222.3,364.5 221.8,363.7 221.4,363 221.1,362.3 220.9,361.6 220.7,361 220.6,360.5 220.6,360.1 220.5,359.7 220.6,359.3 220.6,359 220.7,358.7 220.9,358.4 221.1,358 221.3,357.7 221.6,357.3 222,356.8 222.5,356.4 223.1,355.9 223.7,355.4 224.5,354.9 225.3,354.4 226.3,353.9 227.3,353.4 228.4,352.9 229.6,352.4 230.9,351.8 232.3,351.3 233.7,350.8 235.3,350.3 236.9,349.7 238.6,349.2 240.4,348.7 240.5,348.7 242,348.2 243.6,347.7 245.1,347.2 246.7,346.7 248.3,346.3 249.8,345.8 251.4,345.3 252.9,344.8 254.5,344.4" fill="#949494"/>
<polygon points="254.4,344 252.8,344.5 251.3,345 249.7,345.5 248.2,345.9 246.6,346.4 245,346.9 243.5,347.4 241.9,347.8 240.4,348.3 240.3,348.3 238.5,348.9 236.8,349.4 235.2,349.9 233.6,350.5 232.2,351 230.8,351.5 229.5,352 228.3,352.6 227.1,353.1 226.1,353.6 225.1,354.1 224.3,354.6 223.5,355.1 222.8,355.6 222.3,356.1 221.8,356.6 221.3,357 221,357.4 220.8,357.8 220.6,358.2 220.4,358.6 220.3,358.9 220.2,359.3 220.2,359.7 220.2,360.1 220.3,360.6 220.4,361.1 220.5,361.7 220.8,362.4 221.1,363.1 221.5,363.9 222,364.7 222.5,365.6 223.2,366.6 223.9,367.6 224.7,368.6 225.6,369.7 226.6,370.8 227.7,372 228.9,373.2 228.9,373.2 229.9,374.3 231,375.4 232,376.5 233.1,377.6 234.1,378.7 235.1,379.8 236.2,380.8 237.2,381.9 238.3,383 239.3,384.1 240.4,385.2 241.4,386.3 242.5,387.4 243.5,388.4 244.5,389.5 245.6,390.6 246.6,391.7 247.7,392.8 248.7,393.9 249.8,395 250.8,396.1 251.8,397.1 252.9,398.2 254.1,397.1 253.1,396 252,394.9 251,393.8 249.9,392.7 248.9,391.6 247.8,390.5 246.8,389.5 245.8,388.4 244.7,387.3 243.7,386.2 242.6,385.1 241.6,384 240.5,382.9 239.5,381.8 238.4,380.8 237.4,379.7 236.4,378.6 235.3,377.5 234.3,376.4 233.2,375.3 232.2,374.2 231.1,373.2 230.1,372.1 230.1,372 228.9,370.8 227.9,369.7 226.9,368.6 226,367.5 225.2,366.5 224.5,365.6 223.9,364.7 223.4,363.9 223,363.1 222.6,362.4 222.3,361.8 222.1,361.2 222,360.7 221.9,360.3 221.9,360 221.9,359.7 221.9,359.5 221.9,359.3 222,359.1 222.1,358.9 222.2,358.7 222.4,358.4 222.6,358.1 223,357.8 223.4,357.4 223.9,357 224.5,356.5 225.2,356.1 226,355.6 226.9,355.1 227.9,354.6 229,354.1 230.1,353.6 231.4,353.1 232.7,352.6 234.2,352.1 235.7,351.5 237.3,351 239,350.5 240.8,350 240.9,349.9 242.4,349.5 244,349 245.5,348.5 247.1,348 248.6,347.5 250.2,347.1 251.8,346.6 253.3,346.1 254.9,345.6" fill="#949494"/>
<polygon points="254.8,345.3 253.2,345.8 251.7,346.3 250.1,346.7 248.5,347.2 247,347.7 245.4,348.2 243.9,348.6 242.3,349.1 240.8,349.6 240.7,349.6 238.9,350.1 237.2,350.7 235.6,351.2 234.1,351.7 232.6,352.2 231.3,352.8 230,353.3 228.8,353.8 227.7,354.3 226.7,354.8 225.8,355.3 225,355.8 224.3,356.2 223.7,356.7 223.1,357.1 222.7,357.5 222.4,357.9 222.1,358.2 221.9,358.5 221.8,358.8 221.7,359 221.6,359.2 221.6,359.5 221.5,359.7 221.5,360 221.6,360.4 221.7,360.8 221.8,361.3 222,361.9 222.3,362.5 222.7,363.3 223.1,364 223.6,364.9 224.2,365.8 225,366.7 225.8,367.8 226.6,368.8 227.6,369.9 228.7,371.1 229.8,372.3 229.8,372.3 230.9,373.4 231.9,374.5 233,375.6 234,376.7 235.1,377.7 236.1,378.8 237.2,379.9 238.2,381 239.2,382.1 240.3,383.2 241.3,384.3 242.4,385.3 243.4,386.4 244.5,387.5 245.5,388.6 246.5,389.7 247.6,390.8 248.6,391.9 249.7,393 250.7,394 251.8,395.1 252.8,396.2 253.8,397.3 255.1,396.1 254,395.1 253,394 251.9,392.9 250.9,391.8 249.8,390.7 248.8,389.6 247.8,388.5 246.7,387.4 245.7,386.4 244.6,385.3 243.6,384.2 242.5,383.1 241.5,382 240.5,380.9 239.4,379.8 238.4,378.7 237.3,377.7 236.3,376.6 235.2,375.5 234.2,374.4 233.1,373.3 232.1,372.2 231.1,371.1 231,371.1 229.9,369.9 228.9,368.8 227.9,367.7 227.1,366.7 226.3,365.7 225.6,364.8 225,364 224.5,363.2 224.1,362.5 223.8,361.8 223.6,361.3 223.4,360.8 223.3,360.4 223.2,360.1 223.2,359.9 223.2,359.8 223.2,359.7 223.2,359.6 223.2,359.6 223.3,359.5 223.3,359.4 223.5,359.2 223.6,359 223.9,358.7 224.2,358.4 224.7,358 225.2,357.6 225.9,357.2 226.6,356.7 227.5,356.3 228.4,355.8 229.5,355.3 230.6,354.8 231.9,354.3 233.2,353.8 234.6,353.3 236.1,352.8 237.7,352.3 239.4,351.8 241.2,351.2 241.3,351.2 242.8,350.7 244.4,350.3 245.9,349.8 247.5,349.3 249,348.8 250.6,348.3 252.1,347.9 253.7,347.4 255.3,346.9" fill="#dbdbdb"/>
<polygon points="255.2,346.6 253.6,347.1 252,347.5 250.5,348 248.9,348.5 247.4,349 245.8,349.4 244.3,349.9 242.7,350.4 241.2,350.9 241.1,350.9 239.3,351.4 237.6,351.9 236,352.5 234.5,353 233.1,353.5 231.8,354 230.5,354.5 229.4,355 228.3,355.5 227.3,356 226.5,356.4 225.7,356.9 225,357.3 224.5,357.7 224,358.1 223.6,358.5 223.4,358.8 223.2,359 223,359.2 223,359.4 222.9,359.5 222.9,359.6 222.9,359.6 222.9,359.8 222.9,359.9 222.9,360.2 223,360.5 223.1,360.9 223.2,361.4 223.5,362 223.8,362.6 224.2,363.4 224.7,364.2 225.3,365 226,365.9 226.8,366.9 227.6,367.9 228.6,369 229.6,370.2 230.8,371.4 230.8,371.4 231.9,372.5 232.9,373.6 233.9,374.6 235,375.7 236,376.8 237.1,377.9 238.1,379 239.2,380.1 240.2,381.2 241.2,382.3 242.3,383.3 243.3,384.4 244.4,385.5 245.4,386.6 246.5,387.7 247.5,388.8 248.5,389.9 249.6,390.9 250.6,392 251.7,393.1 252.7,394.2 253.8,395.3 254.8,396.4 256,395.2 255,394.1 253.9,393 252.9,392 251.8,390.9 250.8,389.8 249.8,388.7 248.7,387.6 247.7,386.5 246.6,385.4 245.6,384.3 244.5,383.3 243.5,382.2 242.5,381.1 241.4,380 240.4,378.9 239.3,377.8 238.3,376.7 237.2,375.7 236.2,374.6 235.2,373.5 234.1,372.4 233.1,371.3 232,370.2 232,370.2 230.9,369 229.9,367.9 228.9,366.8 228.1,365.8 227.4,364.9 226.7,364 226.1,363.2 225.7,362.5 225.3,361.8 225,361.3 224.8,360.8 224.7,360.4 224.6,360.1 224.6,359.9 224.5,359.8 224.5,359.8 224.5,359.9 224.5,360 224.5,360 224.5,360.1 224.5,360.1 224.5,360 224.6,359.9 224.8,359.7 225.1,359.4 225.5,359.1 226,358.7 226.6,358.3 227.3,357.9 228.1,357.5 229,357 230,356.5 231.2,356.1 232.4,355.6 233.7,355.1 235.1,354.6 236.6,354.1 238.1,353.6 239.8,353 241.5,352.5 241.7,352.5 243.2,352 244.8,351.5 246.3,351 247.9,350.6 249.4,350.1 251,349.6 252.5,349.1 254.1,348.7 255.7,348.2" fill="#f1f1f1"/>
<polygon points="255.5,347.8 254,348.3 252.4,348.8 250.9,349.3 249.3,349.8 247.8,350.2 246.2,350.7 244.7,351.2 243.1,351.7 241.5,352.1 241.4,352.2 239.7,352.7 238,353.2 236.4,353.7 234.9,354.2 233.5,354.7 232.2,355.2 231,355.7 229.9,356.2 228.9,356.7 228,357.2 227.1,357.6 226.4,358 225.8,358.4 225.3,358.8 224.9,359.1 224.6,359.4 224.4,359.6 224.3,359.8 224.2,359.9 224.2,359.9 224.2,359.9 224.2,359.9 224.2,359.8 224.2,359.8 224.2,359.9 224.2,360 224.3,360.2 224.3,360.5 224.5,360.9 224.7,361.4 225,362 225.4,362.7 225.9,363.4 226.4,364.2 227.1,365.1 227.8,366.1 228.7,367.1 229.6,368.1 230.6,369.3 231.7,370.4 231.8,370.5 232.8,371.5 233.9,372.6 234.9,373.7 235.9,374.8 237,375.9 238,377 239.1,378.1 240.1,379.2 241.2,380.2 242.2,381.3 243.2,382.4 244.3,383.5 245.3,384.6 246.4,385.7 247.4,386.8 248.5,387.9 249.5,388.9 250.6,390 251.6,391.1 252.6,392.2 253.7,393.3 254.7,394.4 255.8,395.5 257,394.3 255.9,393.2 254.9,392.1 253.9,391 252.8,389.9 251.8,388.9 250.7,387.8 249.7,386.7 248.6,385.6 247.6,384.5 246.6,383.4 245.5,382.3 244.5,381.3 243.4,380.2 242.4,379.1 241.3,378 240.3,376.9 239.2,375.8 238.2,374.7 237.2,373.6 236.1,372.6 235.1,371.5 234,370.4 233,369.3 232.9,369.2 231.8,368.1 230.8,367 229.9,366 229.1,365 228.4,364.1 227.8,363.3 227.3,362.5 226.8,361.8 226.5,361.2 226.2,360.7 226.1,360.3 225.9,360 225.9,359.8 225.9,359.7 225.9,359.8 225.9,359.9 225.9,360.1 225.8,360.3 225.8,360.5 225.7,360.7 225.6,360.8 225.6,360.8 225.7,360.7 225.8,360.6 226,360.4 226.3,360.1 226.8,359.8 227.3,359.5 228,359.1 228.7,358.6 229.6,358.2 230.6,357.8 231.7,357.3 232.9,356.8 234.1,356.3 235.5,355.8 237,355.3 238.5,354.8 240.2,354.3 241.9,353.8 242,353.8 243.6,353.3 245.2,352.8 246.7,352.3 248.3,351.8 249.8,351.4 251.4,350.9 252.9,350.4 254.5,349.9 256,349.5" fill="#f2f2f2"/>
<polygon points="255.9,349.1 254.4,349.6 252.8,350.1 251.3,350.6 249.7,351 248.2,351.5 246.6,352 245.1,352.5 243.5,352.9 241.9,353.4 241.8,353.5 240.1,354 238.4,354.5 236.9,355 235.4,355.5 234,356 232.7,356.5 231.5,357 230.4,357.4 229.5,357.9 228.6,358.3 227.8,358.8 227.1,359.2 226.6,359.5 226.1,359.9 225.8,360.1 225.5,360.4 225.4,360.5 225.3,360.6 225.3,360.6 225.4,360.5 225.4,360.4 225.5,360.2 225.5,360 225.5,359.9 225.5,359.8 225.5,359.8 225.5,359.9 225.6,360.1 225.7,360.4 225.9,360.8 226.2,361.4 226.5,362 227,362.7 227.5,363.5 228.1,364.3 228.9,365.2 229.7,366.2 230.6,367.2 231.6,368.3 232.7,369.5 232.7,369.5 233.8,370.6 234.8,371.7 235.9,372.8 236.9,373.9 238,375 239,376.1 240,377.1 241.1,378.2 242.1,379.3 243.2,380.4 244.2,381.5 245.3,382.6 246.3,383.7 247.3,384.8 248.4,385.8 249.4,386.9 250.5,388 251.5,389.1 252.6,390.2 253.6,391.3 254.6,392.4 255.7,393.4 256.7,394.5 257.9,393.4 256.9,392.3 255.9,391.2 254.8,390.1 253.8,389 252.7,387.9 251.7,386.8 250.6,385.8 249.6,384.7 248.6,383.6 247.5,382.5 246.5,381.4 245.4,380.3 244.4,379.2 243.3,378.2 242.3,377.1 241.3,376 240.2,374.9 239.2,373.8 238.1,372.7 237.1,371.6 236,370.5 235,369.5 233.9,368.4 233.9,368.3 232.8,367.2 231.8,366.1 231,365.1 230.2,364.2 229.5,363.3 228.9,362.5 228.4,361.8 228,361.1 227.7,360.6 227.4,360.1 227.3,359.8 227.2,359.6 227.2,359.5 227.2,359.5 227.2,359.7 227.2,359.9 227.2,360.2 227.1,360.6 227,360.9 226.9,361.2 226.8,361.4 226.7,361.6 226.7,361.6 226.7,361.5 226.9,361.4 227.1,361.2 227.5,360.9 228,360.6 228.6,360.2 229.3,359.8 230.2,359.4 231.1,359 232.2,358.5 233.3,358 234.6,357.6 235.9,357.1 237.4,356.6 238.9,356.1 240.6,355.6 242.3,355.1 242.4,355 244,354.6 245.5,354.1 247.1,353.6 248.7,353.1 250.2,352.6 251.8,352.2 253.3,351.7 254.9,351.2 256.4,350.7" fill="#f2f2f2"/>
<polygon points="256.3,350.4 254.8,350.9 253.2,351.4 251.7,351.8 250.1,352.3 248.6,352.8 247,353.3 245.4,353.7 243.9,354.2 242.3,354.7 242.2,354.7 240.5,355.3 238.8,355.8 237.3,356.3 235.8,356.8 234.5,357.2 233.2,357.7 232,358.2 231,358.6 230,359.1 229.2,359.5 228.5,359.9 227.8,360.3 227.3,360.6 226.9,360.9 226.6,361.1 226.5,361.3 226.4,361.4 226.4,361.4 226.5,361.3 226.6,361.1 226.7,360.8 226.8,360.5 226.8,360.2 226.9,359.9 226.9,359.7 226.8,359.6 226.8,359.6 226.9,359.7 227,359.9 227.1,360.3 227.4,360.7 227.7,361.3 228.1,362 228.6,362.7 229.2,363.5 229.9,364.4 230.7,365.3 231.6,366.4 232.6,367.4 233.6,368.6 233.7,368.6 234.7,369.7 235.8,370.8 236.8,371.9 237.9,373 238.9,374 240,375.1 241,376.2 242,377.3 243.1,378.4 244.1,379.5 245.2,380.6 246.2,381.7 247.3,382.7 248.3,383.8 249.3,384.9 250.4,386 251.4,387.1 252.5,388.2 253.5,389.3 254.6,390.4 255.6,391.4 256.7,392.5 257.7,393.6 258.9,392.4 257.9,391.4 256.8,390.3 255.8,389.2 254.7,388.1 253.7,387 252.6,385.9 251.6,384.8 250.6,383.8 249.5,382.7 248.5,381.6 247.4,380.5 246.4,379.4 245.3,378.3 244.3,377.2 243.3,376.1 242.2,375.1 241.2,374 240.1,372.9 239.1,371.8 238,370.7 237,369.6 236,368.5 234.9,367.4 234.9,367.4 233.8,366.3 232.8,365.2 232,364.2 231.2,363.3 230.5,362.5 230,361.7 229.5,361 229.1,360.4 228.8,359.9 228.6,359.6 228.5,359.3 228.5,359.2 228.5,359.2 228.5,359.3 228.5,359.6 228.5,360 228.5,360.4 228.4,360.9 228.3,361.4 228.1,361.8 227.9,362.1 227.8,362.4 227.7,362.5 227.7,362.5 227.8,362.4 228,362.2 228.3,362 228.7,361.7 229.3,361.4 230,361 230.8,360.6 231.7,360.2 232.7,359.7 233.8,359.3 235.1,358.8 236.4,358.3 237.8,357.9 239.3,357.4 241,356.9 242.7,356.4 242.8,356.3 244.4,355.8 245.9,355.4 247.5,354.9 249,354.4 250.6,353.9 252.2,353.4 253.7,353 255.3,352.5 256.8,352" fill="#f3f3f3"/>
<polygon points="256.7,351.7 255.2,352.1 253.6,352.6 252.1,353.1 250.5,353.6 248.9,354.1 247.4,354.5 245.8,355 244.3,355.5 242.7,356 242.6,356 240.8,356.5 239.2,357 237.7,357.5 236.3,358 234.9,358.5 233.7,359 232.6,359.4 231.5,359.9 230.6,360.3 229.8,360.7 229.1,361.1 228.5,361.4 228.1,361.7 227.7,362 227.5,362.1 227.4,362.2 227.4,362.2 227.5,362.2 227.6,361.9 227.8,361.6 227.9,361.3 228.1,360.8 228.2,360.4 228.2,360 228.2,359.6 228.2,359.4 228.1,359.3 228.1,359.3 228.2,359.4 228.3,359.7 228.5,360.1 228.8,360.6 229.2,361.2 229.7,361.9 230.3,362.7 230.9,363.5 231.7,364.5 232.6,365.5 233.5,366.5 234.6,367.6 234.7,367.7 235.7,368.8 236.7,369.9 237.8,371 238.8,372 239.9,373.1 240.9,374.2 242,375.3 243,376.4 244,377.5 245.1,378.6 246.1,379.6 247.2,380.7 248.2,381.8 249.3,382.9 250.3,384 251.4,385.1 252.4,386.2 253.4,387.3 254.5,388.3 255.5,389.4 256.6,390.5 257.6,391.6 258.7,392.7 259.9,391.5 258.8,390.4 257.8,389.3 256.7,388.3 255.7,387.2 254.7,386.1 253.6,385 252.6,383.9 251.5,382.8 250.5,381.7 249.4,380.7 248.4,379.6 247.3,378.5 246.3,377.4 245.3,376.3 244.2,375.2 243.2,374.1 242.1,373 241.1,372 240,370.9 239,369.8 238,368.7 236.9,367.6 235.9,366.5 235.8,366.5 234.8,365.4 233.8,364.3 233,363.4 232.2,362.5 231.6,361.7 231,360.9 230.6,360.3 230.3,359.7 230,359.3 229.9,359 229.8,358.8 229.8,358.8 229.8,358.9 229.8,359.1 229.9,359.5 229.9,360 229.8,360.6 229.7,361.2 229.5,361.8 229.3,362.4 229.1,362.8 228.8,363.1 228.7,363.3 228.6,363.4 228.6,363.4 228.8,363.3 229,363.1 229.4,362.8 229.9,362.5 230.6,362.2 231.3,361.8 232.2,361.4 233.2,361 234.3,360.5 235.5,360.1 236.8,359.6 238.2,359.1 239.7,358.6 241.3,358.1 243,357.6 243.2,357.6 244.8,357.1 246.3,356.6 247.9,356.1 249.4,355.7 251,355.2 252.6,354.7 254.1,354.2 255.7,353.8 257.2,353.3" fill="#e8e8e8"/>
<polygon points="257.1,352.9 255.6,353.4 254,353.9 252.4,354.4 250.9,354.9 249.3,355.3 247.8,355.8 246.2,356.3 244.7,356.8 243.1,357.2 242.9,357.3 241.2,357.8 239.6,358.3 238.1,358.8 236.7,359.3 235.4,359.7 234.2,360.2 233.1,360.7 232.1,361.1 231.2,361.5 230.4,361.9 229.8,362.2 229.2,362.5 228.8,362.8 228.6,363 228.4,363.1 228.4,363.2 228.4,363.1 228.6,362.9 228.8,362.6 229,362.2 229.2,361.7 229.4,361.1 229.5,360.5 229.5,360 229.5,359.5 229.5,359.2 229.4,358.9 229.4,358.9 229.4,358.9 229.5,359.1 229.7,359.5 230,359.9 230.3,360.5 230.8,361.1 231.3,361.9 232,362.7 232.7,363.6 233.6,364.6 234.5,365.6 235.6,366.7 235.6,366.8 236.7,367.9 237.7,368.9 238.7,370 239.8,371.1 240.8,372.2 241.9,373.3 242.9,374.4 244,375.5 245,376.5 246.1,377.6 247.1,378.7 248.1,379.8 249.2,380.9 250.2,382 251.3,383.1 252.3,384.2 253.4,385.2 254.4,386.3 255.4,387.4 256.5,388.5 257.5,389.6 258.6,390.7 259.6,391.8 260.8,390.6 259.8,389.5 258.7,388.4 257.7,387.3 256.7,386.3 255.6,385.2 254.6,384.1 253.5,383 252.5,381.9 251.4,380.8 250.4,379.7 249.4,378.6 248.3,377.6 247.3,376.5 246.2,375.4 245.2,374.3 244.1,373.2 243.1,372.1 242.1,371 241,369.9 240,368.9 238.9,367.8 237.9,366.7 236.8,365.6 236.8,365.5 235.7,364.5 234.8,363.4 234,362.5 233.3,361.6 232.6,360.9 232.1,360.2 231.7,359.6 231.4,359.1 231.2,358.7 231.1,358.4 231,358.3 231,358.4 231.1,358.6 231.1,358.9 231.2,359.4 231.2,360.1 231.1,360.8 231,361.5 230.8,362.3 230.5,362.9 230.2,363.5 229.9,363.9 229.7,364.2 229.6,364.4 229.5,364.4 229.6,364.3 229.8,364.2 230.1,364 230.6,363.7 231.2,363.4 231.9,363 232.8,362.6 233.7,362.2 234.8,361.8 236,361.3 237.3,360.9 238.7,360.4 240.1,359.9 241.7,359.4 243.4,358.9 243.6,358.9 245.2,358.4 246.7,357.9 248.3,357.4 249.8,356.9 251.4,356.5 252.9,356 254.5,355.5 256.1,355 257.6,354.6" fill="#c9c9c9"/>
<polygon points="257.5,354.2 256,354.7 254.4,355.2 252.8,355.7 251.3,356.1 249.7,356.6 248.2,357.1 246.6,357.6 245.1,358 243.5,358.5 243.3,358.6 241.6,359.1 240,359.6 238.5,360.1 237.1,360.5 235.9,361 234.7,361.4 233.6,361.9 232.6,362.3 231.8,362.7 231,363.1 230.4,363.4 230,363.7 229.6,363.9 229.4,364.1 229.3,364.2 229.3,364.1 229.4,364 229.6,363.7 229.9,363.3 230.2,362.8 230.5,362.2 230.7,361.4 230.8,360.7 230.9,360 230.9,359.4 230.8,359 230.7,358.6 230.7,358.5 230.7,358.4 230.7,358.6 230.9,358.8 231.1,359.2 231.4,359.8 231.8,360.4 232.4,361.1 233,361.9 233.7,362.7 234.6,363.7 235.5,364.7 236.5,365.8 236.6,365.8 237.6,366.9 238.7,368 239.7,369.1 240.8,370.2 241.8,371.3 242.8,372.4 243.9,373.5 244.9,374.5 246,375.6 247,376.7 248.1,377.8 249.1,378.9 250.1,380 251.2,381.1 252.2,382.1 253.3,383.2 254.3,384.3 255.4,385.4 256.4,386.5 257.4,387.6 258.5,388.7 259.5,389.8 260.6,390.8 261.5,389.9 260.5,388.8 259.5,387.7 258.4,386.7 257.4,385.6 256.3,384.5 255.3,383.4 254.2,382.3 253.2,381.2 252.2,380.1 251.1,379 250.1,378 249,376.9 248,375.8 246.9,374.7 245.9,373.6 244.8,372.5 243.8,371.4 242.8,370.4 241.7,369.3 240.7,368.2 239.6,367.1 238.6,366 237.5,364.9 237.5,364.8 236.5,363.8 235.5,362.8 234.7,361.9 234,361 233.4,360.3 232.9,359.6 232.5,359 232.2,358.6 232.1,358.2 231.9,358 231.9,358 232,358.1 232,358.3 232.1,358.8 232.2,359.4 232.2,360.1 232.1,360.9 232,361.8 231.7,362.6 231.4,363.4 231.1,364 230.7,364.5 230.4,364.9 230.2,365.1 230.2,365.2 230.2,365.1 230.4,365 230.7,364.8 231.1,364.6 231.7,364.2 232.3,363.9 233.2,363.5 234.1,363.1 235.2,362.7 236.3,362.2 237.6,361.8 239,361.3 240.4,360.8 242,360.4 243.7,359.9 243.9,359.8 245.5,359.3 247,358.8 248.6,358.4 250.1,357.9 251.7,357.4 253.2,356.9 254.8,356.5 256.3,356 257.9,355.5" fill="#8c8c8c"/>
<polygon points="579.2,224.3 580.7,223.9 582.3,223.5 583.8,223.1 585.4,222.7 586.9,222.3 588.5,221.9 590,221.5 591.6,221.1 593.1,220.8 594.7,220.4 596.2,220 595.7,220.1 597.7,219.6 599.6,219.1 601.6,218.7 603.6,218.4 605.6,218.2 607.5,218.1 609.5,218 611.4,218 613.3,218 615.2,218.2 617,218.4 618.9,218.6 620.7,218.9 622.4,219.3 624.2,219.7 625.9,220.2 627.6,220.7 629.2,221.2 630.8,221.8 632.4,222.4 634,223 635.5,223.7 637,224.4 638.5,225.1 639.9,225.9 641.3,226.6 642.7,227.4 644.1,228.2 645.4,228.9 646.7,229.7 648,230.5 649.3,231.4 650.6,232.2 651.8,233 653,233.8 654.2,234.6 655.4,235.4 656.6,236.2 657.7,237 658.8,237.8 658.9,237.8 660.2,238.7 661.5,239.7 662.8,240.6 664.1,241.5 665.4,242.4 666.7,243.3 668,244.2 669.3,245.1 670.6,246 671.9,246.9 673.2,247.9 674.5,248.8 675.8,249.7 677,250.6 678.3,251.5 679.6,252.4 680.9,253.3 680,254.7 678.7,253.8 677.4,252.8 676.1,251.9 674.8,251 673.5,250.1 672.2,249.2 670.9,248.3 669.6,247.4 668.3,246.5 667,245.6 665.7,244.6 664.5,243.7 663.2,242.8 661.9,241.9 660.6,241 659.3,240.1 658,239.2 657.9,239.1 656.8,238.3 655.6,237.6 654.5,236.8 653.3,236 652.1,235.2 650.9,234.3 649.7,233.5 648.4,232.7 647.2,231.9 645.9,231.1 644.6,230.4 643.3,229.6 641.9,228.8 640.5,228.1 639.1,227.3 637.7,226.6 636.3,225.9 634.8,225.2 633.3,224.6 631.8,223.9 630.3,223.3 628.7,222.8 627.1,222.2 625.4,221.8 623.8,221.3 622.1,220.9 620.4,220.5 618.6,220.2 616.8,220 615,219.8 613.2,219.7 611.4,219.6 609.5,219.6 607.6,219.7 605.7,219.8 603.8,220.1 601.9,220.4 600,220.7 598.1,221.2 596.1,221.7 596.6,221.6 595.1,222 593.5,222.3 592,222.7 590.4,223.1 588.9,223.5 587.3,223.9 585.8,224.3 584.2,224.7 582.7,225.1 581.1,225.5 579.6,225.9" fill="#7c7c7c"/>
<polygon points="579.5,225.5 581.1,225.1 582.6,224.7 584.2,224.4 585.7,224 587.2,223.6 588.8,223.2 590.3,222.8 591.9,222.4 593.4,222 595,221.6 596.5,221.2 596,221.4 598,220.8 599.9,220.4 601.9,220 603.8,219.7 605.7,219.5 607.6,219.3 609.5,219.3 611.4,219.3 613.2,219.3 615.1,219.5 616.9,219.7 618.7,219.9 620.4,220.2 622.2,220.6 623.9,221 625.5,221.4 627.2,221.9 628.8,222.4 630.4,223 631.9,223.6 633.5,224.2 635,224.9 636.4,225.6 637.9,226.3 639.3,227 640.7,227.7 642.1,228.5 643.4,229.3 644.8,230 646.1,230.8 647.4,231.6 648.6,232.4 649.9,233.2 651.1,234.1 652.3,234.9 653.5,235.7 654.7,236.5 655.8,237.3 657,238.1 658.1,238.8 658.2,238.9 659.5,239.8 660.8,240.7 662.1,241.6 663.4,242.5 664.7,243.4 665.9,244.4 667.2,245.3 668.5,246.2 669.8,247.1 671.1,248 672.4,248.9 673.7,249.8 675,250.7 676.3,251.6 677.6,252.6 678.9,253.5 680.2,254.4 679.2,255.7 677.9,254.8 676.6,253.9 675.4,253 674.1,252.1 672.8,251.2 671.5,250.3 670.2,249.3 668.9,248.4 667.6,247.5 666.3,246.6 665,245.7 663.7,244.8 662.4,243.9 661.1,243 659.8,242.1 658.5,241.1 657.2,240.2 657.2,240.2 656.1,239.4 654.9,238.6 653.8,237.8 652.6,237 651.4,236.2 650.2,235.4 649,234.6 647.7,233.8 646.5,233 645.2,232.2 643.9,231.5 642.6,230.7 641.3,229.9 639.9,229.2 638.5,228.5 637.1,227.7 635.7,227.1 634.3,226.4 632.8,225.7 631.3,225.1 629.8,224.5 628.3,224 626.7,223.5 625.1,223 623.5,222.6 621.8,222.2 620.1,221.8 618.4,221.5 616.7,221.3 614.9,221.1 613.2,221 611.4,220.9 609.5,220.9 607.7,221 605.9,221.1 604,221.3 602.1,221.6 600.3,222 598.4,222.4 596.5,222.9 596.9,222.8 595.4,223.2 593.8,223.6 592.3,224 590.7,224.4 589.2,224.8 587.6,225.2 586.1,225.6 584.6,225.9 583,226.3 581.5,226.7 579.9,227.1" fill="#bdbdbd"/>
<polygon points="579.8,226.8 581.4,226.4 582.9,226 584.5,225.6 586,225.2 587.6,224.8 589.1,224.4 590.7,224 592.2,223.7 593.7,223.3 595.3,222.9 596.8,222.5 596.4,222.6 598.3,222.1 600.2,221.6 602.1,221.3 604,221 605.8,220.8 607.7,220.6 609.5,220.6 611.4,220.6 613.2,220.6 615,220.7 616.7,220.9 618.5,221.2 620.2,221.5 621.9,221.8 623.5,222.2 625.2,222.7 626.8,223.1 628.4,223.7 629.9,224.2 631.5,224.8 633,225.4 634.4,226.1 635.9,226.7 637.3,227.4 638.7,228.1 640.1,228.9 641.4,229.6 642.8,230.4 644.1,231.2 645.4,231.9 646.7,232.7 647.9,233.5 649.2,234.3 650.4,235.1 651.6,235.9 652.8,236.7 654,237.5 655.1,238.3 656.3,239.1 657.4,239.9 657.4,239.9 658.7,240.9 660,241.8 661.3,242.7 662.6,243.6 663.9,244.5 665.2,245.4 666.5,246.3 667.8,247.2 669.1,248.1 670.4,249.1 671.7,250 673,250.9 674.3,251.8 675.6,252.7 676.9,253.6 678.1,254.5 679.4,255.4 678.5,256.8 677.2,255.9 675.9,255 674.6,254 673.3,253.1 672,252.2 670.7,251.3 669.4,250.4 668.1,249.5 666.8,248.6 665.6,247.7 664.3,246.8 663,245.8 661.7,244.9 660.4,244 659.1,243.1 657.8,242.2 656.5,241.3 656.4,241.2 655.3,240.5 654.2,239.7 653,238.9 651.9,238.1 650.7,237.3 649.5,236.5 648.3,235.7 647,234.9 645.8,234.1 644.5,233.3 643.3,232.6 642,231.8 640.6,231.1 639.3,230.3 638,229.6 636.6,228.9 635.2,228.2 633.8,227.6 632.3,226.9 630.8,226.3 629.4,225.8 627.8,225.2 626.3,224.7 624.7,224.2 623.1,223.8 621.5,223.4 619.9,223.1 618.2,222.8 616.5,222.6 614.8,222.4 613.1,222.3 611.3,222.2 609.6,222.2 607.8,222.3 606,222.4 604.2,222.6 602.4,222.9 600.5,223.3 598.7,223.7 596.8,224.2 597.2,224.1 595.7,224.5 594.1,224.9 592.6,225.2 591.1,225.6 589.5,226 588,226.4 586.4,226.8 584.9,227.2 583.3,227.6 581.8,228 580.2,228.4" fill="#c6c6c6"/>
<polygon points="580.1,228 581.7,227.6 583.2,227.2 584.8,226.9 586.3,226.5 587.9,226.1 589.4,225.7 591,225.3 592.5,224.9 594.1,224.5 595.6,224.1 597.1,223.7 596.7,223.8 598.6,223.3 600.4,222.9 602.3,222.6 604.1,222.3 606,222.1 607.8,221.9 609.6,221.9 611.3,221.9 613.1,221.9 614.9,222 616.6,222.2 618.3,222.5 619.9,222.7 621.6,223.1 623.2,223.5 624.8,223.9 626.4,224.4 627.9,224.9 629.5,225.4 631,226 632.4,226.6 633.9,227.2 635.3,227.9 636.7,228.6 638.1,229.3 639.5,230 640.8,230.8 642.1,231.5 643.4,232.3 644.7,233 646,233.8 647.2,234.6 648.5,235.4 649.7,236.2 650.9,237 652.1,237.8 653.2,238.6 654.4,239.4 655.5,240.2 656.6,241 656.7,241 658,241.9 659.3,242.8 660.6,243.7 661.9,244.6 663.2,245.6 664.5,246.5 665.8,247.4 667,248.3 668.3,249.2 669.6,250.1 670.9,251 672.2,251.9 673.5,252.8 674.8,253.8 676.1,254.7 677.4,255.6 678.7,256.5 677.7,257.8 676.5,256.9 675.2,256 673.9,255.1 672.6,254.2 671.3,253.3 670,252.4 668.7,251.5 667.4,250.5 666.1,249.6 664.8,248.7 663.5,247.8 662.2,246.9 660.9,246 659.6,245.1 658.3,244.2 657,243.3 655.7,242.3 655.7,242.3 654.6,241.5 653.4,240.7 652.3,240 651.1,239.2 650,238.4 648.8,237.6 647.6,236.8 646.4,236 645.1,235.2 643.9,234.4 642.6,233.7 641.3,232.9 640,232.2 638.7,231.5 637.4,230.8 636,230.1 634.6,229.4 633.2,228.7 631.8,228.1 630.4,227.5 628.9,227 627.4,226.4 625.9,225.9 624.4,225.5 622.8,225.1 621.2,224.7 619.6,224.4 618,224.1 616.4,223.8 614.7,223.7 613,223.6 611.3,223.5 609.6,223.5 607.9,223.6 606.1,223.7 604.3,223.9 602.6,224.2 600.8,224.5 599,224.9 597.2,225.4 597.6,225.3 596,225.7 594.5,226.1 592.9,226.5 591.4,226.9 589.8,227.3 588.3,227.7 586.7,228.1 585.2,228.4 583.6,228.8 582.1,229.2 580.6,229.6" fill="#cecece"/>
<polygon points="580.5,229.3 582,228.9 583.6,228.5 585.1,228.1 586.6,227.7 588.2,227.3 589.7,226.9 591.3,226.5 592.8,226.2 594.4,225.8 595.9,225.4 597.5,225 597.1,225.1 598.9,224.6 600.7,224.2 602.5,223.8 604.3,223.6 606.1,223.4 607.8,223.2 609.6,223.1 611.3,223.1 613,223.2 614.7,223.3 616.4,223.5 618.1,223.7 619.7,224 621.3,224.3 622.9,224.7 624.5,225.1 626,225.6 627.5,226.1 629,226.6 630.5,227.2 631.9,227.8 633.4,228.4 634.8,229.1 636.2,229.7 637.5,230.4 638.9,231.2 640.2,231.9 641.5,232.6 642.8,233.4 644.1,234.1 645.3,234.9 646.5,235.7 647.8,236.5 649,237.3 650.2,238.1 651.3,238.9 652.5,239.7 653.6,240.5 654.8,241.2 655.9,242 656,242.1 657.2,243 658.5,243.9 659.8,244.8 661.1,245.7 662.4,246.6 663.7,247.5 665,248.4 666.3,249.3 667.6,250.3 668.9,251.2 670.2,252.1 671.5,253 672.8,253.9 674.1,254.8 675.4,255.7 676.7,256.6 678,257.6 677,258.9 675.7,258 674.4,257.1 673.1,256.2 671.8,255.2 670.5,254.3 669.2,253.4 667.9,252.5 666.7,251.6 665.4,250.7 664.1,249.8 662.8,248.9 661.5,248 660.2,247 658.9,246.1 657.6,245.2 656.3,244.3 655,243.4 655,243.4 653.8,242.6 652.7,241.8 651.6,241 650.4,240.2 649.2,239.4 648.1,238.7 646.9,237.9 645.7,237.1 644.4,236.3 643.2,235.5 641.9,234.8 640.7,234 639.4,233.3 638.1,232.6 636.8,231.9 635.4,231.2 634.1,230.6 632.7,229.9 631.3,229.3 629.9,228.7 628.5,228.2 627,227.7 625.5,227.2 624,226.7 622.5,226.3 621,225.9 619.4,225.6 617.8,225.4 616.2,225.1 614.6,225 613,224.8 611.3,224.8 609.6,224.8 607.9,224.9 606.2,225 604.5,225.2 602.8,225.4 601.1,225.8 599.3,226.2 597.6,226.7 597.9,226.6 596.3,227 594.8,227.4 593.2,227.7 591.7,228.1 590.1,228.5 588.6,228.9 587.1,229.3 585.5,229.7 584,230.1 582.4,230.5 580.9,230.9" fill="#d6d6d6"/>
<polygon points="580.8,230.5 582.3,230.1 583.9,229.8 585.4,229.4 587,229 588.5,228.6 590.1,228.2 591.6,227.8 593.1,227.4 594.7,227 596.2,226.6 597.8,226.2 597.5,226.3 599.2,225.8 601,225.4 602.7,225.1 604.5,224.8 606.2,224.6 607.9,224.5 609.6,224.4 611.3,224.4 613,224.5 614.6,224.6 616.3,224.8 617.9,225 619.5,225.3 621,225.6 622.6,226 624.1,226.4 625.6,226.8 627.1,227.3 628.6,227.8 630,228.4 631.4,229 632.8,229.6 634.2,230.2 635.6,230.9 636.9,231.6 638.2,232.3 639.6,233 640.8,233.7 642.1,234.5 643.4,235.2 644.6,236 645.8,236.8 647.1,237.6 648.3,238.4 649.4,239.2 650.6,239.9 651.8,240.7 652.9,241.5 654,242.3 655.2,243.1 655.2,243.1 656.5,244 657.8,244.9 659.1,245.8 660.4,246.8 661.7,247.7 663,248.6 664.3,249.5 665.6,250.4 666.9,251.3 668.1,252.2 669.4,253.1 670.7,254 672,255 673.3,255.9 674.6,256.8 675.9,257.7 677.2,258.6 676.3,260 675,259 673.7,258.1 672.4,257.2 671.1,256.3 669.8,255.4 668.5,254.5 667.2,253.6 665.9,252.7 664.6,251.7 663.3,250.8 662,249.9 660.7,249 659.4,248.1 658.1,247.2 656.9,246.3 655.6,245.4 654.3,244.5 654.2,244.4 653.1,243.6 652,242.9 650.8,242.1 649.7,241.3 648.5,240.5 647.3,239.7 646.2,239 645,238.2 643.7,237.4 642.5,236.6 641.3,235.9 640,235.2 638.8,234.4 637.5,233.7 636.2,233 634.8,232.4 633.5,231.7 632.2,231.1 630.8,230.5 629.4,229.9 628,229.4 626.6,228.9 625.1,228.4 623.7,228 622.2,227.6 620.7,227.2 619.2,226.9 617.6,226.6 616.1,226.4 614.5,226.2 612.9,226.1 611.3,226.1 609.7,226.1 608,226.1 606.4,226.3 604.7,226.5 603,226.7 601.3,227 599.6,227.4 597.9,227.9 598.2,227.8 596.6,228.2 595.1,228.6 593.5,229 592,229.4 590.5,229.8 588.9,230.2 587.4,230.6 585.8,231 584.3,231.3 582.7,231.7 581.2,232.1" fill="#cccccc"/>
<polygon points="581.1,231.8 582.6,231.4 584.2,231 585.7,230.6 587.3,230.2 588.8,229.8 590.4,229.4 591.9,229.1 593.5,228.7 595,228.3 596.6,227.9 598.1,227.5 597.8,227.6 599.5,227.1 601.3,226.7 603,226.4 604.6,226.1 606.3,225.9 608,225.8 609.6,225.7 611.3,225.7 612.9,225.8 614.5,225.9 616.1,226.1 617.7,226.3 619.2,226.6 620.8,226.9 622.3,227.2 623.8,227.6 625.2,228.1 626.7,228.5 628.1,229.1 629.5,229.6 630.9,230.2 632.3,230.8 633.7,231.4 635,232.1 636.3,232.7 637.6,233.4 638.9,234.1 640.2,234.9 641.5,235.6 642.7,236.3 643.9,237.1 645.1,237.9 646.4,238.7 647.5,239.4 648.7,240.2 649.9,241 651,241.8 652.2,242.6 653.3,243.4 654.4,244.1 654.5,244.2 655.8,245.1 657.1,246 658.3,246.9 659.6,247.8 660.9,248.7 662.2,249.6 663.5,250.5 664.8,251.5 666.1,252.4 667.4,253.3 668.7,254.2 670,255.1 671.3,256 672.6,256.9 673.9,257.8 675.2,258.8 676.5,259.7 675.5,261 674.2,260.1 672.9,259.2 671.6,258.3 670.3,257.4 669,256.4 667.8,255.5 666.5,254.6 665.2,253.7 663.9,252.8 662.6,251.9 661.3,251 660,250.1 658.7,249.2 657.4,248.2 656.1,247.3 654.8,246.4 653.5,245.5 653.5,245.5 652.4,244.7 651.2,243.9 650.1,243.1 649,242.4 647.8,241.6 646.6,240.8 645.5,240 644.3,239.3 643.1,238.5 641.8,237.8 640.6,237 639.4,236.3 638.1,235.6 636.9,234.9 635.6,234.2 634.3,233.5 633,232.9 631.6,232.3 630.3,231.7 628.9,231.1 627.6,230.6 626.2,230.1 624.7,229.6 623.3,229.2 621.9,228.8 620.4,228.5 618.9,228.2 617.4,227.9 615.9,227.7 614.4,227.5 612.8,227.4 611.3,227.4 609.7,227.4 608.1,227.4 606.5,227.6 604.9,227.7 603.2,228 601.6,228.3 599.9,228.7 598.3,229.1 598.5,229.1 597,229.5 595.4,229.9 593.9,230.3 592.3,230.6 590.8,231 589.2,231.4 587.7,231.8 586.1,232.2 584.6,232.6 583,233 581.5,233.4" fill="#bcbcbc"/>
<polygon points="581.4,233 583,232.6 584.5,232.3 586.1,231.9 587.6,231.5 589.1,231.1 590.7,230.7 592.2,230.3 593.8,229.9 595.3,229.5 596.9,229.1 598.4,228.7 598.2,228.8 599.9,228.3 601.5,228 603.2,227.6 604.8,227.4 606.4,227.2 608.1,227.1 609.7,227 611.3,227 612.8,227.1 614.4,227.2 615.9,227.3 617.5,227.6 619,227.8 620.5,228.1 622,228.5 623.4,228.9 624.8,229.3 626.3,229.8 627.7,230.3 629.1,230.8 630.4,231.4 631.8,232 633.1,232.6 634.4,233.2 635.7,233.9 637,234.6 638.3,235.3 639.6,236 640.8,236.7 642,237.5 643.2,238.2 644.5,239 645.6,239.7 646.8,240.5 648,241.3 649.2,242.1 650.3,242.9 651.4,243.6 652.6,244.4 653.7,245.2 653.7,245.2 655,246.1 656.3,247 657.6,248 658.9,248.9 660.2,249.8 661.5,250.7 662.8,251.6 664.1,252.5 665.4,253.4 666.7,254.3 668,255.2 669.2,256.2 670.5,257.1 671.8,258 673.1,258.9 674.4,259.8 675.7,260.7 674.8,262.1 673.5,261.2 672.2,260.2 670.9,259.3 669.6,258.4 668.3,257.5 667,256.6 665.7,255.7 664.4,254.8 663.1,253.9 661.8,252.9 660.5,252 659.2,251.1 658,250.2 656.7,249.3 655.4,248.4 654.1,247.5 652.8,246.6 652.7,246.5 651.6,245.8 650.5,245 649.4,244.2 648.2,243.4 647.1,242.7 645.9,241.9 644.8,241.1 643.6,240.4 642.4,239.6 641.2,238.9 640,238.1 638.7,237.4 637.5,236.7 636.2,236 635,235.3 633.7,234.7 632.4,234.1 631.1,233.5 629.8,232.9 628.4,232.3 627.1,231.8 625.7,231.3 624.4,230.9 623,230.4 621.6,230.1 620.1,229.7 618.7,229.4 617.2,229.2 615.7,229 614.3,228.8 612.8,228.7 611.2,228.7 609.7,228.7 608.2,228.7 606.6,228.8 605,229 603.4,229.3 601.9,229.6 600.3,229.9 598.7,230.4 598.8,230.3 597.3,230.7 595.7,231.1 594.2,231.5 592.6,231.9 591.1,232.3 589.5,232.7 588,233.1 586.5,233.5 584.9,233.8 583.4,234.2 581.8,234.6" fill="#8f8f8f"/>
<polygon points="581.7,234.3 583.3,233.9 584.8,233.5 586.4,233.1 587.9,232.7 589.5,232.3 591,231.9 592.6,231.6 594.1,231.2 595.6,230.8 597.2,230.4 598.7,230 598.6,230 600.2,229.6 601.8,229.2 603.4,228.9 605,228.7 606.6,228.5 608.1,228.4 609.7,228.3 611.2,228.3 612.8,228.4 614.3,228.5 615.8,228.6 617.3,228.8 618.7,229.1 620.2,229.4 621.6,229.7 623.1,230.1 624.5,230.5 625.9,231 627.2,231.5 628.6,232 629.9,232.6 631.2,233.1 632.6,233.7 633.9,234.4 635.1,235 636.4,235.7 637.7,236.4 638.9,237.1 640.1,237.8 641.4,238.6 642.6,239.3 643.8,240.1 644.9,240.8 646.1,241.6 647.3,242.4 648.4,243.1 649.6,243.9 650.7,244.7 651.8,245.5 652.9,246.3 653,246.3 654.3,247.2 655.6,248.1 656.9,249 658.2,249.9 659.4,250.8 660.7,251.7 662,252.7 663.3,253.6 664.6,254.5 665.9,255.4 667.2,256.3 668.5,257.2 669.8,258.1 671.1,259 672.4,260 673.7,260.9 675,261.8 674,263.1 672.7,262.2 671.4,261.3 670.1,260.4 668.9,259.5 667.6,258.6 666.3,257.6 665,256.7 663.7,255.8 662.4,254.9 661.1,254 659.8,253.1 658.5,252.2 657.2,251.3 655.9,250.4 654.6,249.4 653.3,248.5 652,247.6 652,247.6 650.9,246.8 649.8,246.1 648.6,245.3 647.5,244.5 646.4,243.7 645.2,243 644,242.2 642.9,241.4 641.7,240.7 640.5,240 639.3,239.2 638.1,238.5 636.9,237.8 635.6,237.1 634.4,236.5 633.1,235.8 631.9,235.2 630.6,234.6 629.3,234.1 628,233.5 626.7,233 625.3,232.5 624,232.1 622.6,231.7 621.2,231.3 619.8,231 618.4,230.7 617,230.5 615.6,230.3 614.1,230.1 612.7,230 611.2,230 609.7,230 608.2,230 606.7,230.1 605.2,230.3 603.7,230.5 602.1,230.8 600.6,231.2 599,231.6 599.1,231.6 597.6,232 596,232.4 594.5,232.8 593,233.1 591.4,233.5 589.9,233.9 588.3,234.3 586.8,234.7 585.2,235.1 583.7,235.5 582.1,235.9" fill="#2e2e2e"/>
<polygon points="582,235.5 583.6,235.2 585.1,234.8 586.7,234.4 588.2,234 589.8,233.6 591.3,233.2 592.9,232.8 594.4,232.4 596,232 597.5,231.6 599,231.2 598.9,231.3 600.5,230.9 602.1,230.5 603.6,230.2 605.2,230 606.7,229.8 608.2,229.7 609.7,229.6 611.2,229.6 612.7,229.7 614.2,229.8 615.6,229.9 617.1,230.1 618.5,230.4 619.9,230.6 621.3,231 622.7,231.4 624.1,231.8 625.4,232.2 626.8,232.7 628.1,233.2 629.4,233.7 630.7,234.3 632,234.9 633.3,235.5 634.5,236.2 635.8,236.8 637,237.5 638.3,238.2 639.5,238.9 640.7,239.7 641.9,240.4 643.1,241.1 644.2,241.9 645.4,242.7 646.6,243.4 647.7,244.2 648.8,245 650,245.8 651.1,246.5 652.2,247.3 652.2,247.3 653.5,248.2 654.8,249.2 656.1,250.1 657.4,251 658.7,251.9 660,252.8 661.3,253.7 662.6,254.6 663.9,255.5 665.2,256.4 666.5,257.4 667.8,258.3 669.1,259.2 670.3,260.1 671.6,261 672.9,261.9 674.2,262.8 673.3,264.2 672,263.3 670.7,262.4 669.4,261.4 668.1,260.5 666.8,259.6 665.5,258.7 664.2,257.8 662.9,256.9 661.6,256 660.3,255.1 659.1,254.1 657.8,253.2 656.5,252.3 655.2,251.4 653.9,250.5 652.6,249.6 651.3,248.7 651.3,248.7 650.2,247.9 649,247.1 647.9,246.3 646.8,245.6 645.6,244.8 644.5,244 643.3,243.3 642.2,242.5 641,241.8 639.8,241.1 638.6,240.3 637.4,239.6 636.2,238.9 635,238.3 633.8,237.6 632.5,237 631.3,236.4 630,235.8 628.8,235.3 627.5,234.7 626.2,234.2 624.9,233.8 623.6,233.3 622.3,232.9 620.9,232.6 619.6,232.3 618.2,232 616.8,231.7 615.4,231.5 614,231.4 612.6,231.3 611.2,231.2 609.8,231.2 608.3,231.3 606.8,231.4 605.4,231.6 603.9,231.8 602.4,232.1 600.9,232.4 599.4,232.9 599.5,232.8 597.9,233.2 596.4,233.6 594.8,234 593.3,234.4 591.7,234.8 590.2,235.2 588.6,235.6 587.1,236 585.5,236.4 584,236.7 582.5,237.1" fill="#2e2e2e"/>
<polygon points="582.4,236.8 583.9,236.4 585.5,236 587,235.6 588.5,235.2 590.1,234.8 591.6,234.5 593.2,234.1 594.7,233.7 596.3,233.3 597.8,232.9 599.4,232.5 599.3,232.5 600.8,232.1 602.3,231.8 603.8,231.5 605.3,231.2 606.8,231.1 608.3,231 609.7,230.9 611.2,230.9 612.6,230.9 614.1,231 615.5,231.2 616.9,231.4 618.3,231.6 619.6,231.9 621,232.2 622.4,232.6 623.7,233 625,233.4 626.3,233.9 627.6,234.4 628.9,234.9 630.2,235.5 631.5,236.1 632.7,236.7 633.9,237.3 635.2,238 636.4,238.6 637.6,239.3 638.8,240 640,240.8 641.2,241.5 642.4,242.2 643.5,243 644.7,243.7 645.8,244.5 647,245.3 648.1,246.1 649.2,246.8 650.4,247.6 651.5,248.4 651.5,248.4 652.8,249.3 654.1,250.2 655.4,251.1 656.7,252 658,252.9 659.3,253.9 660.5,254.8 661.8,255.7 663.1,256.6 664.4,257.5 665.7,258.4 667,259.3 668.3,260.2 669.6,261.2 670.9,262.1 672.2,263 673.5,263.9 672.5,265.2 671.2,264.3 670,263.4 668.7,262.5 667.4,261.6 666.1,260.7 664.8,259.8 663.5,258.8 662.2,257.9 660.9,257 659.6,256.1 658.3,255.2 657,254.3 655.7,253.4 654.4,252.5 653.1,251.6 651.8,250.6 650.5,249.7 650.5,249.7 649.4,249 648.3,248.2 647.2,247.4 646.1,246.6 644.9,245.9 643.8,245.1 642.6,244.4 641.5,243.6 640.3,242.9 639.2,242.2 638,241.4 636.8,240.8 635.6,240.1 634.4,239.4 633.2,238.8 632,238.2 630.7,237.6 629.5,237 628.3,236.4 627,235.9 625.8,235.4 624.5,235 623.2,234.6 621.9,234.2 620.6,233.8 619.3,233.5 618,233.2 616.6,233 615.3,232.8 613.9,232.7 612.6,232.6 611.2,232.5 609.8,232.5 608.4,232.6 607,232.7 605.5,232.9 604.1,233.1 602.7,233.4 601.2,233.7 599.7,234.1 599.8,234.1 598.2,234.5 596.7,234.9 595.1,235.3 593.6,235.7 592,236 590.5,236.4 589,236.8 587.4,237.2 585.9,237.6 584.3,238 582.8,238.4" fill="#7f7f7f"/>
<polygon points="582.7,238 584.2,237.7 585.8,237.3 587.3,236.9 588.9,236.5 590.4,236.1 592,235.7 593.5,235.3 595,234.9 596.6,234.5 598.1,234.1 599.7,233.7 599.6,233.8 601.1,233.4 602.6,233 604,232.7 605.5,232.5 606.9,232.4 608.4,232.2 609.8,232.2 611.2,232.2 612.6,232.2 613.9,232.3 615.3,232.5 616.7,232.7 618,232.9 619.4,233.2 620.7,233.5 622,233.8 623.3,234.2 624.6,234.7 625.9,235.1 627.1,235.6 628.4,236.1 629.7,236.7 630.9,237.2 632.1,237.8 633.4,238.5 634.6,239.1 635.8,239.8 637,240.5 638.2,241.1 639.3,241.9 640.5,242.6 641.7,243.3 642.8,244.1 644,244.8 645.1,245.6 646.3,246.4 647.4,247.1 648.5,247.9 649.6,248.7 650.7,249.4 650.7,249.4 652,250.4 653.3,251.3 654.6,252.2 655.9,253.1 657.2,254 658.5,254.9 659.8,255.8 661.1,256.7 662.4,257.6 663.7,258.6 665,259.5 666.3,260.4 667.6,261.3 668.9,262.2 670.2,263.1 671.4,264 672.7,264.9 671.8,266.3 670.5,265.4 669.2,264.5 667.9,263.6 666.6,262.6 665.3,261.7 664,260.8 662.7,259.9 661.4,259 660.2,258.1 658.9,257.2 657.6,256.3 656.3,255.3 655,254.4 653.7,253.5 652.4,252.6 651.1,251.7 649.8,250.8 649.8,250.8 648.7,250 647.6,249.2 646.5,248.5 645.3,247.7 644.2,246.9 643.1,246.2 641.9,245.4 640.8,244.7 639.6,244 638.5,243.3 637.3,242.6 636.1,241.9 635,241.2 633.8,240.6 632.6,239.9 631.4,239.3 630.2,238.7 629,238.2 627.8,237.6 626.5,237.1 625.3,236.7 624.1,236.2 622.8,235.8 621.5,235.4 620.3,235.1 619,234.8 617.7,234.5 616.4,234.3 615.1,234.1 613.8,234 612.5,233.9 611.2,233.8 609.8,233.8 608.5,233.9 607.1,234 605.7,234.1 604.3,234.4 602.9,234.6 601.5,234.9 600.1,235.3 600.1,235.3 598.5,235.7 597,236.1 595.4,236.5 593.9,236.9 592.4,237.3 590.8,237.7 589.3,238.1 587.7,238.5 586.2,238.9 584.6,239.2 583.1,239.6" fill="#d8d8d8"/>
<polygon points="583,239.3 584.5,238.9 586.1,238.5 587.6,238.1 589.2,237.7 590.7,237.3 592.3,237 593.8,236.6 595.4,236.2 596.9,235.8 598.5,235.4 600,235 600,235 601.4,234.6 602.9,234.3 604.3,234 605.7,233.8 607.1,233.6 608.4,233.5 609.8,233.5 611.2,233.5 612.5,233.5 613.8,233.6 615.2,233.8 616.5,233.9 617.8,234.2 619.1,234.4 620.4,234.7 621.6,235.1 622.9,235.5 624.2,235.9 625.4,236.3 626.7,236.8 627.9,237.3 629.1,237.8 630.3,238.4 631.6,239 632.8,239.6 634,240.2 635.1,240.9 636.3,241.6 637.5,242.3 638.7,243 639.8,243.7 641,244.4 642.1,245.2 643.3,245.9 644.4,246.7 645.5,247.4 646.7,248.2 647.8,249 648.9,249.7 650,250.5 650,250.5 651.3,251.4 652.6,252.3 653.9,253.2 655.2,254.1 656.5,255.1 657.8,256 659.1,256.9 660.4,257.8 661.6,258.7 662.9,259.6 664.2,260.5 665.5,261.4 666.8,262.4 668.1,263.3 669.4,264.2 670.7,265.1 672,266 671.1,267.3 669.8,266.4 668.5,265.5 667.2,264.6 665.9,263.7 664.6,262.8 663.3,261.9 662,261 660.7,260 659.4,259.1 658.1,258.2 656.8,257.3 655.5,256.4 654.2,255.5 652.9,254.6 651.6,253.7 650.3,252.8 649.1,251.8 649.1,251.8 648,251.1 646.8,250.3 645.7,249.5 644.6,248.8 643.5,248 642.4,247.3 641.2,246.5 640.1,245.8 639,245.1 637.8,244.4 636.7,243.7 635.5,243 634.3,242.3 633.2,241.7 632,241.1 630.8,240.5 629.6,239.9 628.5,239.3 627.3,238.8 626.1,238.3 624.9,237.9 623.6,237.4 622.4,237 621.2,236.7 620,236.3 618.7,236 617.5,235.8 616.2,235.6 615,235.4 613.7,235.3 612.4,235.2 611.1,235.1 609.8,235.1 608.5,235.2 607.2,235.3 605.9,235.4 604.5,235.6 603.2,235.9 601.8,236.2 600.5,236.6 600.4,236.6 598.9,237 597.3,237.4 595.8,237.8 594.2,238.2 592.7,238.5 591.1,238.9 589.6,239.3 588,239.7 586.5,240.1 584.9,240.5 583.4,240.9" fill="#bbbbbb"/>
<polygon points="583.3,240.6 584.9,240.2 586.4,239.8 588,239.4 589.5,239 591,238.6 592.6,238.2 594.1,237.8 595.7,237.4 597.2,237 598.8,236.6 600.3,236.3 600.4,236.2 601.7,235.9 603.1,235.5 604.5,235.3 605.8,235.1 607.2,234.9 608.5,234.8 609.8,234.8 611.1,234.8 612.4,234.8 613.7,234.9 615,235 616.3,235.2 617.5,235.4 618.8,235.7 620,236 621.3,236.3 622.5,236.7 623.8,237.1 625,237.5 626.2,238 627.4,238.5 628.6,239 629.8,239.6 631,240.2 632.2,240.8 633.3,241.4 634.5,242 635.7,242.7 636.8,243.4 638,244.1 639.1,244.8 640.3,245.5 641.4,246.2 642.6,247 643.7,247.7 644.8,248.5 645.9,249.3 647,250 648.2,250.8 649.3,251.6 649.3,251.6 650.6,252.5 651.8,253.4 653.1,254.3 654.4,255.2 655.7,256.1 657,257 658.3,257.9 659.6,258.9 660.9,259.8 662.2,260.7 663.5,261.6 664.8,262.5 666.1,263.4 667.4,264.3 668.7,265.2 670,266.1 671.3,267.1 670.3,268.4 669,267.5 667.7,266.6 666.4,265.7 665.1,264.8 663.8,263.8 662.5,262.9 661.3,262 660,261.1 658.7,260.2 657.4,259.3 656.1,258.4 654.8,257.5 653.5,256.5 652.2,255.6 650.9,254.7 649.6,253.8 648.3,252.9 648.3,252.9 647.2,252.1 646.1,251.4 645,250.6 643.9,249.8 642.8,249.1 641.6,248.3 640.5,247.6 639.4,246.9 638.3,246.2 637.1,245.5 636,244.8 634.9,244.1 633.7,243.5 632.6,242.8 631.4,242.2 630.2,241.6 629.1,241.1 627.9,240.5 626.8,240 625.6,239.5 624.4,239.1 623.2,238.7 622,238.3 620.8,237.9 619.6,237.6 618.4,237.3 617.2,237 616,236.8 614.8,236.7 613.6,236.5 612.3,236.5 611.1,236.4 609.9,236.4 608.6,236.5 607.3,236.6 606.1,236.7 604.8,236.9 603.5,237.2 602.1,237.5 600.8,237.8 600.7,237.8 599.2,238.2 597.6,238.6 596.1,239 594.5,239.4 593,239.8 591.4,240.2 589.9,240.6 588.4,241 586.8,241.4 585.3,241.8 583.7,242.1" fill="#9f9f9f"/>
<polygon points="583.6,241.8 585.2,241.4 586.7,241 588.3,240.6 589.8,240.2 591.4,239.8 592.9,239.5 594.5,239.1 596,238.7 597.5,238.3 599.1,237.9 600.6,237.5 600.7,237.5 602.1,237.1 603.4,236.8 604.7,236.6 606,236.4 607.3,236.2 608.6,236.1 609.9,236.1 611.1,236.1 612.4,236.1 613.6,236.2 614.8,236.3 616.1,236.5 617.3,236.7 618.5,237 619.7,237.2 620.9,237.6 622.1,237.9 623.3,238.3 624.5,238.7 625.7,239.2 626.9,239.7 628.1,240.2 629.2,240.7 630.4,241.3 631.6,241.9 632.7,242.5 633.9,243.2 635,243.8 636.2,244.5 637.3,245.2 638.5,245.9 639.6,246.6 640.7,247.3 641.8,248.1 643,248.8 644.1,249.6 645.2,250.3 646.3,251.1 647.4,251.9 648.5,252.6 648.5,252.6 649.8,253.5 651.1,254.4 652.4,255.3 653.7,256.3 655,257.2 656.3,258.1 657.6,259 658.9,259.9 660.2,260.8 661.5,261.7 662.7,262.6 664,263.6 665.3,264.5 666.6,265.4 667.9,266.3 669.2,267.2 670.5,268.1 669.6,269.5 668.3,268.5 667,267.6 665.7,266.7 664.4,265.8 663.1,264.9 661.8,264 660.5,263.1 659.2,262.2 657.9,261.2 656.6,260.3 655.3,259.4 654,258.5 652.7,257.6 651.4,256.7 650.2,255.8 648.9,254.9 647.6,254 647.6,254 646.5,253.2 645.4,252.4 644.3,251.7 643.2,250.9 642,250.2 640.9,249.4 639.8,248.7 638.7,248 637.6,247.3 636.5,246.6 635.3,245.9 634.2,245.2 633.1,244.6 631.9,244 630.8,243.4 629.7,242.8 628.5,242.2 627.4,241.7 626.2,241.2 625.1,240.7 624,240.3 622.8,239.9 621.6,239.5 620.5,239.1 619.3,238.8 618.2,238.6 617,238.3 615.8,238.1 614.6,237.9 613.5,237.8 612.3,237.7 611.1,237.7 609.9,237.7 608.7,237.8 607.5,237.8 606.2,238 605,238.2 603.7,238.4 602.5,238.7 601.2,239.1 601,239.1 599.5,239.5 597.9,239.9 596.4,240.3 594.9,240.7 593.3,241.1 591.8,241.4 590.2,241.8 588.7,242.2 587.1,242.6 585.6,243 584,243.4" fill="#949494"/>
<polygon points="584,243.1 585.5,242.7 587,242.3 588.6,241.9 590.1,241.5 591.7,241.1 593.2,240.7 594.8,240.3 596.3,239.9 597.9,239.5 599.4,239.1 601,238.8 601.1,238.7 602.4,238.4 603.7,238.1 604.9,237.8 606.2,237.6 607.4,237.5 608.7,237.4 609.9,237.4 611.1,237.4 612.3,237.4 613.5,237.5 614.7,237.6 615.9,237.8 617.1,238 618.2,238.2 619.4,238.5 620.6,238.8 621.7,239.2 622.9,239.5 624.1,240 625.2,240.4 626.4,240.9 627.5,241.4 628.7,241.9 629.8,242.5 631,243 632.1,243.7 633.2,244.3 634.4,244.9 635.5,245.6 636.6,246.3 637.8,247 638.9,247.7 640,248.4 641.1,249.1 642.2,249.9 643.4,250.6 644.5,251.4 645.6,252.1 646.7,252.9 647.8,253.7 647.8,253.7 649.1,254.6 650.4,255.5 651.7,256.4 652.9,257.3 654.2,258.2 655.5,259.1 656.8,260.1 658.1,261 659.4,261.9 660.7,262.8 662,263.7 663.3,264.6 664.6,265.5 665.9,266.4 667.2,267.3 668.5,268.3 669.8,269.2 668.8,270.5 667.5,269.6 666.2,268.7 664.9,267.8 663.6,266.9 662.4,266 661.1,265 659.8,264.1 658.5,263.2 657.2,262.3 655.9,261.4 654.6,260.5 653.3,259.6 652,258.7 650.7,257.7 649.4,256.8 648.1,255.9 646.8,255 646.9,255 645.7,254.3 644.6,253.5 643.5,252.7 642.4,252 641.3,251.2 640.2,250.5 639.1,249.8 638,249.1 636.9,248.4 635.8,247.7 634.7,247 633.6,246.3 632.4,245.7 631.3,245.1 630.2,244.5 629.1,243.9 628,243.4 626.9,242.9 625.7,242.4 624.6,241.9 623.5,241.5 622.4,241.1 621.3,240.7 620.1,240.4 619,240.1 617.9,239.8 616.8,239.6 615.6,239.4 614.5,239.2 613.4,239.1 612.2,239 611.1,239 609.9,239 608.7,239 607.6,239.1 606.4,239.3 605.2,239.4 604,239.7 602.8,240 601.5,240.3 601.4,240.3 599.8,240.7 598.3,241.1 596.7,241.5 595.2,241.9 593.6,242.3 592.1,242.7 590.5,243.1 589,243.5 587.4,243.9 585.9,244.3 584.4,244.6" fill="#949494"/>
<polygon points="584.3,244.3 585.8,243.9 587.4,243.5 588.9,243.1 590.4,242.7 592,242.4 593.5,242 595.1,241.6 596.6,241.2 598.2,240.8 599.7,240.4 601.3,240 601.4,240 602.7,239.6 603.9,239.3 605.1,239.1 606.4,238.9 607.5,238.8 608.7,238.7 609.9,238.6 611.1,238.6 612.2,238.7 613.4,238.8 614.5,238.9 615.7,239 616.8,239.2 618,239.5 619.1,239.7 620.2,240.1 621.4,240.4 622.5,240.8 623.6,241.2 624.8,241.6 625.9,242.1 627,242.6 628.1,243.1 629.3,243.6 630.4,244.2 631.5,244.8 632.6,245.4 633.7,246 634.9,246.7 636,247.4 637.1,248.1 638.2,248.8 639.3,249.5 640.4,250.2 641.5,250.9 642.6,251.7 643.7,252.5 644.8,253.2 645.9,254 647.1,254.7 647,254.7 648.3,255.6 649.6,256.5 650.9,257.5 652.2,258.4 653.5,259.3 654.8,260.2 656.1,261.1 657.4,262 658.7,262.9 660,263.8 661.3,264.8 662.6,265.7 663.8,266.6 665.1,267.5 666.4,268.4 667.7,269.3 669,270.2 668.1,271.6 666.8,270.7 665.5,269.7 664.2,268.8 662.9,267.9 661.6,267 660.3,266.1 659,265.2 657.7,264.3 656.4,263.4 655.1,262.4 653.8,261.5 652.5,260.6 651.3,259.7 650,258.8 648.7,257.9 647.4,257 646.1,256.1 646.1,256.1 645,255.3 643.9,254.6 642.8,253.8 641.7,253.1 640.6,252.3 639.5,251.6 638.4,250.9 637.3,250.1 636.2,249.5 635.1,248.8 634,248.1 632.9,247.5 631.8,246.8 630.7,246.2 629.6,245.7 628.5,245.1 627.4,244.6 626.3,244.1 625.2,243.6 624.1,243.1 623.1,242.7 622,242.3 620.9,242 619.8,241.6 618.7,241.3 617.6,241.1 616.5,240.9 615.4,240.7 614.3,240.5 613.2,240.4 612.1,240.3 611,240.3 609.9,240.3 608.8,240.3 607.7,240.4 606.6,240.5 605.4,240.7 604.3,240.9 603.1,241.2 601.9,241.5 601.7,241.6 600.1,242 598.6,242.4 597,242.8 595.5,243.2 593.9,243.6 592.4,243.9 590.9,244.3 589.3,244.7 587.8,245.1 586.2,245.5 584.7,245.9" fill="#dbdbdb"/>
<polygon points="584.6,245.6 586.1,245.2 587.7,244.8 589.2,244.4 590.8,244 592.3,243.6 593.9,243.2 595.4,242.8 596.9,242.4 598.5,242 600,241.7 601.6,241.3 601.8,241.2 603,240.9 604.2,240.6 605.4,240.4 606.5,240.2 607.7,240.1 608.8,240 609.9,239.9 611.1,239.9 612.2,240 613.3,240.1 614.4,240.2 615.5,240.3 616.6,240.5 617.7,240.7 618.8,241 619.9,241.3 621,241.6 622.1,242 623.2,242.4 624.3,242.8 625.4,243.3 626.5,243.7 627.6,244.2 628.7,244.8 629.8,245.3 630.9,245.9 632,246.5 633.1,247.2 634.2,247.8 635.3,248.5 636.4,249.2 637.5,249.9 638.6,250.6 639.7,251.3 640.8,252 641.9,252.8 643,253.5 644.1,254.3 645.2,255 646.3,255.8 646.3,255.8 647.6,256.7 648.9,257.6 650.2,258.5 651.5,259.4 652.8,260.3 654,261.3 655.3,262.2 656.6,263.1 657.9,264 659.2,264.9 660.5,265.8 661.8,266.7 663.1,267.6 664.4,268.5 665.7,269.5 667,270.4 668.3,271.3 667.3,272.6 666,271.7 664.7,270.8 663.5,269.9 662.2,269 660.9,268.1 659.6,267.2 658.3,266.2 657,265.3 655.7,264.4 654.4,263.5 653.1,262.6 651.8,261.7 650.5,260.8 649.2,259.9 647.9,258.9 646.6,258 645.3,257.1 645.4,257.2 644.3,256.4 643.2,255.6 642.1,254.9 641,254.1 639.9,253.4 638.8,252.7 637.7,251.9 636.6,251.2 635.5,250.5 634.4,249.9 633.3,249.2 632.3,248.6 631.2,248 630.1,247.4 629,246.8 627.9,246.3 626.9,245.7 625.8,245.2 624.7,244.8 623.7,244.3 622.6,243.9 621.5,243.5 620.5,243.2 619.4,242.9 618.4,242.6 617.3,242.3 616.3,242.1 615.2,241.9 614.2,241.8 613.1,241.7 612.1,241.6 611,241.6 610,241.6 608.9,241.6 607.8,241.7 606.7,241.8 605.6,242 604.5,242.2 603.4,242.5 602.3,242.8 602,242.9 600.4,243.2 598.9,243.6 597.3,244 595.8,244.4 594.3,244.8 592.7,245.2 591.2,245.6 589.6,246 588.1,246.4 586.5,246.8 585,247.2" fill="#f1f1f1"/>
<polygon points="584.9,246.8 586.4,246.4 588,246 589.5,245.6 591.1,245.2 592.6,244.9 594.2,244.5 595.7,244.1 597.3,243.7 598.8,243.3 600.4,242.9 601.9,242.5 602.2,242.4 603.3,242.1 604.5,241.9 605.6,241.6 606.7,241.5 607.8,241.4 608.9,241.3 610,241.2 611,241.2 612.1,241.3 613.2,241.3 614.2,241.4 615.3,241.6 616.3,241.8 617.4,242 618.5,242.3 619.5,242.5 620.6,242.9 621.7,243.2 622.7,243.6 623.8,244 624.9,244.4 625.9,244.9 627,245.4 628.1,245.9 629.2,246.5 630.3,247.1 631.4,247.7 632.4,248.3 633.5,248.9 634.6,249.6 635.7,250.2 636.8,250.9 637.9,251.6 639,252.4 640.1,253.1 641.2,253.8 642.3,254.6 643.4,255.3 644.5,256.1 645.6,256.9 645.5,256.8 646.8,257.7 648.1,258.7 649.4,259.6 650.7,260.5 652,261.4 653.3,262.3 654.6,263.2 655.9,264.1 657.2,265 658.5,266 659.8,266.9 661.1,267.8 662.4,268.7 663.7,269.6 664.9,270.5 666.2,271.4 667.5,272.3 666.6,273.7 665.3,272.8 664,271.9 662.7,270.9 661.4,270 660.1,269.1 658.8,268.2 657.5,267.3 656.2,266.4 654.9,265.5 653.6,264.6 652.4,263.6 651.1,262.7 649.8,261.8 648.5,260.9 647.2,260 645.9,259.1 644.6,258.2 644.6,258.2 643.5,257.4 642.4,256.7 641.3,255.9 640.3,255.2 639.2,254.5 638.1,253.7 637,253 635.9,252.3 634.8,251.6 633.8,251 632.7,250.3 631.6,249.7 630.6,249.1 629.5,248.5 628.4,247.9 627.4,247.4 626.3,246.9 625.3,246.4 624.2,246 623.2,245.5 622.2,245.1 621.1,244.8 620.1,244.4 619.1,244.1 618.1,243.8 617,243.6 616,243.4 615,243.2 614,243.1 613,243 612,242.9 611,242.9 610,242.9 609,242.9 607.9,243 606.9,243.1 605.9,243.3 604.8,243.5 603.7,243.7 602.6,244 602.3,244.1 600.8,244.5 599.2,244.9 597.7,245.3 596.1,245.7 594.6,246.1 593,246.5 591.5,246.8 589.9,247.2 588.4,247.6 586.8,248 585.3,248.4" fill="#f2f2f2"/>
<polygon points="585.2,248.1 586.8,247.7 588.3,247.3 589.9,246.9 591.4,246.5 592.9,246.1 594.5,245.7 596,245.3 597.6,244.9 599.1,244.5 600.7,244.2 602.2,243.8 602.5,243.7 603.6,243.4 604.7,243.1 605.8,242.9 606.9,242.8 607.9,242.6 609,242.6 610,242.5 611,242.5 612,242.6 613,242.6 614.1,242.7 615.1,242.9 616.1,243 617.1,243.3 618.1,243.5 619.2,243.8 620.2,244.1 621.2,244.4 622.3,244.8 623.3,245.2 624.4,245.6 625.4,246.1 626.5,246.6 627.5,247.1 628.6,247.6 629.7,248.2 630.7,248.8 631.8,249.4 632.9,250 633.9,250.7 635,251.3 636.1,252 637.2,252.7 638.3,253.4 639.4,254.2 640.5,254.9 641.5,255.6 642.6,256.4 643.7,257.2 644.8,257.9 644.8,257.9 646.1,258.8 647.4,259.7 648.7,260.6 650,261.5 651.3,262.5 652.6,263.4 653.9,264.3 655.1,265.2 656.4,266.1 657.7,267 659,267.9 660.3,268.8 661.6,269.7 662.9,270.7 664.2,271.6 665.5,272.5 666.8,273.4 665.8,274.7 664.6,273.8 663.3,272.9 662,272 660.7,271.1 659.4,270.2 658.1,269.3 656.8,268.4 655.5,267.4 654.2,266.5 652.9,265.6 651.6,264.7 650.3,263.8 649,262.9 647.7,262 646.4,261.1 645.1,260.1 643.8,259.2 643.9,259.3 642.8,258.5 641.7,257.8 640.6,257 639.5,256.3 638.4,255.5 637.4,254.8 636.3,254.1 635.2,253.4 634.2,252.7 633.1,252.1 632,251.4 631,250.8 629.9,250.2 628.9,249.6 627.8,249.1 626.8,248.6 625.8,248.1 624.7,247.6 623.7,247.1 622.7,246.7 621.7,246.3 620.7,246 619.7,245.7 618.7,245.4 617.7,245.1 616.8,244.9 615.8,244.7 614.8,244.5 613.9,244.4 612.9,244.3 611.9,244.2 611,244.2 610,244.2 609,244.2 608.1,244.3 607.1,244.4 606.1,244.5 605.1,244.7 604,245 603,245.3 602.6,245.4 601.1,245.7 599.5,246.1 598,246.5 596.4,246.9 594.9,247.3 593.3,247.7 591.8,248.1 590.3,248.5 588.7,248.9 587.2,249.3 585.6,249.7" fill="#f2f2f2"/>
<polygon points="585.5,249.3 587.1,248.9 588.6,248.5 590.2,248.1 591.7,247.8 593.3,247.4 594.8,247 596.4,246.6 597.9,246.2 599.4,245.8 601,245.4 602.5,245 602.9,244.9 604,244.6 605,244.4 606,244.2 607,244 608,243.9 609,243.8 610,243.8 611,243.8 612,243.8 612.9,243.9 613.9,244 614.9,244.1 615.9,244.3 616.8,244.5 617.8,244.8 618.8,245 619.8,245.3 620.8,245.6 621.8,246 622.8,246.4 623.9,246.8 624.9,247.3 625.9,247.7 627,248.3 628,248.8 629,249.3 630.1,249.9 631.1,250.5 632.2,251.1 633.3,251.8 634.3,252.4 635.4,253.1 636.5,253.8 637.6,254.5 638.6,255.2 639.7,256 640.8,256.7 641.9,257.5 643,258.2 644.1,259 644,258.9 645.3,259.9 646.6,260.8 647.9,261.7 649.2,262.6 650.5,263.5 651.8,264.4 653.1,265.3 654.4,266.2 655.7,267.2 657,268.1 658.3,269 659.6,269.9 660.9,270.8 662.2,271.7 663.5,272.6 664.8,273.5 666,274.4 665.1,275.8 663.8,274.9 662.5,274 661.2,273.1 659.9,272.1 658.6,271.2 657.3,270.3 656,269.4 654.8,268.5 653.5,267.6 652.2,266.7 650.9,265.8 649.6,264.8 648.3,263.9 647,263 645.7,262.1 644.4,261.2 643.1,260.3 643.2,260.3 642.1,259.6 641,258.8 639.9,258.1 638.8,257.3 637.7,256.6 636.7,255.9 635.6,255.2 634.5,254.5 633.5,253.8 632.4,253.2 631.4,252.5 630.3,251.9 629.3,251.3 628.3,250.8 627.2,250.2 626.2,249.7 625.2,249.2 624.2,248.8 623.2,248.3 622.2,247.9 621.3,247.5 620.3,247.2 619.3,246.9 618.4,246.6 617.4,246.3 616.5,246.1 615.6,245.9 614.6,245.8 613.7,245.6 612.8,245.5 611.9,245.5 611,245.5 610,245.5 609.1,245.5 608.2,245.6 607.3,245.7 606.3,245.8 605.3,246 604.4,246.2 603.4,246.5 602.9,246.6 601.4,247 599.8,247.4 598.3,247.8 596.8,248.2 595.2,248.6 593.7,249 592.1,249.3 590.6,249.7 589,250.1 587.5,250.5 585.9,250.9" fill="#f3f3f3"/>
<polygon points="585.9,250.6 587.4,250.2 588.9,249.8 590.5,249.4 592,249 593.6,248.6 595.1,248.2 596.7,247.8 598.2,247.4 599.8,247.1 601.3,246.7 602.9,246.3 603.3,246.2 604.3,245.9 605.3,245.7 606.2,245.5 607.2,245.3 608.2,245.2 609.1,245.1 610,245.1 611,245.1 611.9,245.1 612.8,245.2 613.7,245.3 614.7,245.4 615.6,245.6 616.6,245.8 617.5,246 618.5,246.3 619.4,246.6 620.4,246.9 621.4,247.2 622.4,247.6 623.4,248 624.4,248.4 625.4,248.9 626.4,249.4 627.4,249.9 628.4,250.5 629.5,251 630.5,251.6 631.5,252.2 632.6,252.9 633.7,253.5 634.7,254.2 635.8,254.9 636.8,255.6 637.9,256.3 639,257 640.1,257.8 641.2,258.5 642.3,259.3 643.4,260 643.3,260 644.6,260.9 645.9,261.8 647.2,262.7 648.5,263.7 649.8,264.6 651.1,265.5 652.4,266.4 653.7,267.3 655,268.2 656.2,269.1 657.5,270 658.8,270.9 660.1,271.9 661.4,272.8 662.7,273.7 664,274.6 665.3,275.5 664.4,276.8 663.1,275.9 661.8,275 660.5,274.1 659.2,273.2 657.9,272.3 656.6,271.4 655.3,270.5 654,269.6 652.7,268.6 651.4,267.7 650.1,266.8 648.8,265.9 647.5,265 646.2,264.1 644.9,263.2 643.7,262.3 642.4,261.3 642.4,261.4 641.3,260.6 640.2,259.9 639.2,259.1 638.1,258.4 637,257.7 635.9,257 634.9,256.3 633.8,255.6 632.8,254.9 631.7,254.3 630.7,253.7 629.7,253.1 628.7,252.5 627.6,251.9 626.6,251.4 625.6,250.9 624.7,250.4 623.7,249.9 622.7,249.5 621.8,249.1 620.8,248.8 619.9,248.4 618.9,248.1 618,247.8 617.1,247.6 616.2,247.4 615.3,247.2 614.4,247 613.6,246.9 612.7,246.8 611.8,246.8 610.9,246.7 610.1,246.7 609.2,246.8 608.3,246.8 607.4,246.9 606.5,247.1 605.6,247.3 604.7,247.5 603.7,247.7 603.3,247.9 601.7,248.3 600.2,248.6 598.6,249 597.1,249.4 595.5,249.8 594,250.2 592.4,250.6 590.9,251 589.3,251.4 587.8,251.8 586.3,252.2" fill="#e8e8e8"/>
<polygon points="586.2,251.8 587.7,251.4 589.3,251 590.8,250.6 592.3,250.3 593.9,249.9 595.4,249.5 597,249.1 598.5,248.7 600.1,248.3 601.6,247.9 603.2,247.5 603.6,247.4 604.6,247.1 605.5,246.9 606.5,246.7 607.4,246.6 608.3,246.5 609.2,246.4 610.1,246.4 610.9,246.4 611.8,246.4 612.7,246.5 613.6,246.6 614.5,246.7 615.4,246.9 616.3,247 617.2,247.3 618.1,247.5 619,247.8 620,248.1 620.9,248.4 621.9,248.8 622.8,249.2 623.8,249.6 624.8,250.1 625.8,250.6 626.8,251.1 627.8,251.6 628.8,252.2 629.9,252.8 630.9,253.4 631.9,254 633,254.6 634,255.3 635.1,256 636.1,256.7 637.2,257.4 638.3,258.1 639.4,258.8 640.4,259.6 641.5,260.3 642.6,261.1 642.6,261.1 643.9,262 645.1,262.9 646.4,263.8 647.7,264.7 649,265.6 650.3,266.5 651.6,267.4 652.9,268.4 654.2,269.3 655.5,270.2 656.8,271.1 658.1,272 659.4,272.9 660.7,273.8 662,274.7 663.3,275.6 664.6,276.6 663.6,277.9 662.3,277 661,276.1 659.7,275.2 658.4,274.3 657.1,273.3 655.9,272.4 654.6,271.5 653.3,270.6 652,269.7 650.7,268.8 649.4,267.9 648.1,267 646.8,266 645.5,265.1 644.2,264.2 642.9,263.3 641.6,262.4 641.7,262.5 640.6,261.7 639.5,260.9 638.4,260.2 637.4,259.5 636.3,258.7 635.2,258 634.2,257.4 633.1,256.7 632.1,256 631.1,255.4 630,254.8 629,254.2 628,253.6 627,253.1 626,252.5 625.1,252 624.1,251.6 623.1,251.1 622.2,250.7 621.3,250.3 620.4,250 619.4,249.6 618.5,249.3 617.7,249.1 616.8,248.8 615.9,248.6 615.1,248.5 614.2,248.3 613.4,248.2 612.6,248.1 611.7,248.1 610.9,248 610.1,248 609.3,248.1 608.4,248.1 607.6,248.2 606.7,248.4 605.9,248.5 605,248.7 604.1,249 603.6,249.1 602,249.5 600.5,249.9 598.9,250.3 597.4,250.7 595.8,251.1 594.3,251.5 592.8,251.9 591.2,252.2 589.7,252.6 588.1,253 586.6,253.4" fill="#c9c9c9"/>
<polygon points="586.5,253.1 588,252.7 589.6,252.3 591.1,251.9 592.7,251.5 594.2,251.1 595.8,250.7 597.3,250.3 598.8,249.9 600.4,249.6 601.9,249.2 603.5,248.8 604,248.6 604.9,248.4 605.8,248.2 606.7,248 607.5,247.9 608.4,247.8 609.2,247.7 610.1,247.7 610.9,247.7 611.8,247.7 612.6,247.8 613.4,247.9 614.3,248 615.1,248.1 616,248.3 616.9,248.5 617.8,248.7 618.6,249 619.6,249.3 620.5,249.6 621.4,250 622.3,250.4 623.3,250.8 624.3,251.2 625.2,251.7 626.2,252.2 627.2,252.7 628.2,253.3 629.2,253.9 630.2,254.5 631.2,255.1 632.3,255.7 633.3,256.4 634.4,257.1 635.4,257.7 636.5,258.5 637.6,259.2 638.6,259.9 639.7,260.7 640.8,261.4 641.9,262.2 641.8,262.1 643.1,263 644.4,263.9 645.7,264.9 647,265.8 648.3,266.7 649.6,267.6 650.9,268.5 652.2,269.4 653.5,270.3 654.8,271.2 656.1,272.1 657.3,273.1 658.6,274 659.9,274.9 661.2,275.8 662.5,276.7 663.8,277.6 663.1,278.7 661.8,277.8 660.5,276.8 659.2,275.9 657.9,275 656.6,274.1 655.3,273.2 654,272.3 652.7,271.4 651.4,270.5 650.1,269.6 648.8,268.6 647.5,267.7 646.2,266.8 645,265.9 643.7,265 642.4,264.1 641.1,263.2 641.2,263.2 640.1,262.5 639,261.7 637.9,261 636.8,260.2 635.8,259.5 634.7,258.8 633.7,258.1 632.6,257.5 631.6,256.8 630.6,256.2 629.6,255.6 628.6,255 627.6,254.4 626.6,253.9 625.6,253.4 624.7,252.9 623.7,252.4 622.8,252 621.8,251.6 620.9,251.2 620,250.9 619.1,250.5 618.3,250.2 617.4,250 616.6,249.8 615.7,249.6 614.9,249.4 614.1,249.3 613.3,249.1 612.5,249.1 611.7,249 610.9,249 610.1,249 609.3,249 608.5,249.1 607.7,249.2 606.9,249.3 606.1,249.4 605.2,249.6 604.3,249.9 603.8,250 602.3,250.4 600.7,250.8 599.2,251.2 597.6,251.6 596.1,252 594.5,252.4 593,252.8 591.4,253.2 589.9,253.5 588.3,253.9 586.8,254.3" fill="#8c8c8c"/>

<g transform="translate(267.5 335.8) rotate(-17)">
  <rect x="-17" y="-18.5" width="10" height="37" fill="url(#collarG)"/>
  <rect x="-8" y="-20.5" width="9" height="41" fill="url(#collarG)"/>
  <rect x="-8.5" y="-19" width="1.4" height="38" fill="#666" opacity="0.7"/>
  <polygon points="0,-22.5 313,-23 313,23 0,22.5" fill="url(#knurlG)"/>
  <polygon points="0,-22.5 313,-23 313,23 0,22.5" fill="url(#knurlP)"/>
  <rect x="312" y="-21" width="8" height="42" fill="url(#collarG)"/>
  <rect x="320" y="-18.5" width="11" height="37" fill="url(#collarG)"/>
  <rect x="319.5" y="-19" width="1.4" height="38" fill="#666" opacity="0.7"/>
</g>
<path d="M272.9 384.8A27.5 23 -35 1 0 227.9 416.4A27.5 23 -35 1 0 272.9 384.8Z M273.7 385.5A27.5 23 -35 1 0 228.7 417.1A27.5 23 -35 1 0 273.7 385.5Z M274.5 386.2A27.5 23 -35 1 0 229.5 417.8A27.5 23 -35 1 0 274.5 386.2Z M275.3 386.9A27.5 23 -35 1 0 230.3 418.5A27.5 23 -35 1 0 275.3 386.9Z M276.1 387.6A27.5 23 -35 1 0 231.1 419.2A27.5 23 -35 1 0 276.1 387.6Z M276.9 388.3A27.5 23 -35 1 0 231.9 419.9A27.5 23 -35 1 0 276.9 388.3Z M277.7 389.0A27.5 23 -35 1 0 232.7 420.6A27.5 23 -35 1 0 277.7 389.0Z M278.5 389.7A27.5 23 -35 1 0 233.5 421.3A27.5 23 -35 1 0 278.5 389.7Z M279.3 390.4A27.5 23 -35 1 0 234.3 422.0A27.5 23 -35 1 0 279.3 390.4Z M280.1 391.1A27.5 23 -35 1 0 235.1 422.7A27.5 23 -35 1 0 280.1 391.1Z M280.9 391.8A27.5 23 -35 1 0 235.9 423.4A27.5 23 -35 1 0 280.9 391.8Z" fill="url(#capSideL)"/>
<path d="M280.9 391.8A27.5 23 -35 1 0 235.9 423.4A27.5 23 -35 1 0 280.9 391.8Z" fill="#7b7b7b"/>
<path d="M273.6 396.0A19.25 16.099999999999998 -35 1 0 242.0 418.0A19.25 16.099999999999998 -35 1 0 273.6 396.0Z" fill="#808080" stroke="#2a2a2a" stroke-width="1.4"/>
<path d="M273.6 396.0A19.25 16.099999999999998 -35 1 0 242.0 418.0A19.25 16.099999999999998 -35 1 0 273.6 396.0Z" fill="none" stroke="#1e1e1e" stroke-width="2.6" stroke-dasharray="0 52 56 100"/>
<path d="M261.9 401.5A7.5 6.3 -35 1 0 249.7 410.1A7.5 6.3 -35 1 0 261.9 401.5Z" fill="#000"/>
<path d="M692.2 250.5A27 22 -39 1 0 650.2 284.5A27 22 -39 1 0 692.2 250.5Z M693.0 251.2A27 22 -39 1 0 651.0 285.2A27 22 -39 1 0 693.0 251.2Z M693.8 251.9A27 22 -39 1 0 651.8 285.9A27 22 -39 1 0 693.8 251.9Z M694.6 252.6A27 22 -39 1 0 652.6 286.6A27 22 -39 1 0 694.6 252.6Z M695.4 253.3A27 22 -39 1 0 653.4 287.3A27 22 -39 1 0 695.4 253.3Z M696.2 254.0A27 22 -39 1 0 654.2 288.0A27 22 -39 1 0 696.2 254.0Z M697.0 254.7A27 22 -39 1 0 655.0 288.7A27 22 -39 1 0 697.0 254.7Z M697.8 255.4A27 22 -39 1 0 655.8 289.4A27 22 -39 1 0 697.8 255.4Z M698.6 256.1A27 22 -39 1 0 656.6 290.1A27 22 -39 1 0 698.6 256.1Z M699.4 256.8A27 22 -39 1 0 657.4 290.8A27 22 -39 1 0 699.4 256.8Z M700.2 257.5A27 22 -39 1 0 658.2 291.5A27 22 -39 1 0 700.2 257.5Z" fill="url(#capSideR)"/>
<path d="M700.2 257.5A27 22 -39 1 0 658.2 291.5A27 22 -39 1 0 700.2 257.5Z" fill="#7b7b7b"/>
<path d="M693.3 262.0A18.9 15.399999999999999 -39 1 0 663.9 285.8A18.9 15.399999999999999 -39 1 0 693.3 262.0Z" fill="#808080" stroke="#2a2a2a" stroke-width="1.4"/>
<path d="M693.3 262.0A18.9 15.399999999999999 -39 1 0 663.9 285.8A18.9 15.399999999999999 -39 1 0 693.3 262.0Z" fill="none" stroke="#1e1e1e" stroke-width="2.6" stroke-dasharray="0 52 56 100"/>
<path d="M682.8 268.1A7.5 6.3 -39 1 0 671.2 277.5A7.5 6.3 -39 1 0 682.8 268.1Z" fill="#000"/>
<line x1="253.8" y1="407.2" x2="334.6" y2="490.5" stroke="#fff" stroke-width="8"/>
<line x1="232" y1="325" x2="232" y2="395" stroke="#fff" stroke-width="8"/>
<line x1="674.4" y1="272.8" x2="760.8" y2="349.6" stroke="#fff" stroke-width="8"/>
<line x1="253.8" y1="407.2" x2="334.6" y2="490.5" stroke="#000" stroke-width="3.6"/>
<line x1="674.4" y1="272.8" x2="760.8" y2="349.6" stroke="#000" stroke-width="3.6"/>
<line x1="232" y1="178" x2="232" y2="395" stroke="#000" stroke-width="3.6"/>
<line x1="232" y1="430" x2="232" y2="499" stroke="#000" stroke-width="3.6"/>
<line x1="702" y1="25.5" x2="702" y2="241" stroke="#000" stroke-width="3.6"/>
<line x1="239.5" y1="196.8" x2="695.5" y2="50.3" stroke="#000" stroke-width="3.2"/><polyline points="252,201.9 239.5,196.8 246.69,185.38" fill="none" stroke="#000" stroke-width="3.2" stroke-linejoin="round" stroke-linecap="round"/><polyline points="683,45.2 695.5,50.3 688.31,61.72" fill="none" stroke="#000" stroke-width="3.2" stroke-linejoin="round" stroke-linecap="round"/>
<line x1="358" y1="177.5" x2="433.75" y2="256" stroke="#000" stroke-width="3.6"/>
<line x1="358.75" y1="243.75" x2="385" y2="271" stroke="#000" stroke-width="3.6"/>
<line x1="373.75" y1="204" x2="373.75" y2="249.5" stroke="#000" stroke-width="3.2"/><polyline points="365.39,213.96 373.75,204 382.11,213.96" fill="none" stroke="#000" stroke-width="3.2" stroke-linejoin="round" stroke-linecap="round"/><polyline points="382.11,239.54 373.75,249.5 365.39,239.54" fill="none" stroke="#000" stroke-width="3.2" stroke-linejoin="round" stroke-linecap="round"/>
<line x1="561" y1="220.5" x2="745.5" y2="163" stroke="#000" stroke-width="3.6"/>
<line x1="707" y1="244" x2="800" y2="211.6" stroke="#000" stroke-width="3.6"/>
<line x1="730.5" y1="174.5" x2="774.5" y2="214.5" stroke="#000" stroke-width="3.2"/><polyline points="731.14,187.98 730.5,174.5 743.98,173.86" fill="none" stroke="#000" stroke-width="3.2" stroke-linejoin="round" stroke-linecap="round"/><polyline points="773.86,201.02 774.5,214.5 761.02,215.14" fill="none" stroke="#000" stroke-width="3.2" stroke-linejoin="round" stroke-linecap="round"/>
<line x1="704" y1="288.4" x2="758.4" y2="270" stroke="#000" stroke-width="3.6"/>
<line x1="738.4" y1="238.5" x2="738.4" y2="269.5" stroke="#000" stroke-width="3.2"/><polyline points="730.04,248.46 738.4,238.5 746.76,248.46" fill="none" stroke="#000" stroke-width="3.2" stroke-linejoin="round" stroke-linecap="round"/><polyline points="746.76,259.54 738.4,269.5 730.04,259.54" fill="none" stroke="#000" stroke-width="3.2" stroke-linejoin="round" stroke-linecap="round"/>
<line x1="328" y1="470.5" x2="737" y2="337" stroke="#000" stroke-width="3.2"/><polyline points="340.52,475.54 328,470.5 335.14,459.04" fill="none" stroke="#000" stroke-width="3.2" stroke-linejoin="round" stroke-linecap="round"/><polyline points="724.48,331.96 737,337 729.86,348.46" fill="none" stroke="#000" stroke-width="3.2" stroke-linejoin="round" stroke-linecap="round"/>
<line x1="285.6" y1="417.4" x2="285.6" y2="480.8" stroke="#000" stroke-width="3.6"/>
<line x1="239" y1="474.2" x2="279.5" y2="460.8" stroke="#000" stroke-width="3.2"/><polyline points="251.54,479.19 239,474.2 246.09,462.71" fill="none" stroke="#000" stroke-width="3.2" stroke-linejoin="round" stroke-linecap="round"/><polyline points="266.96,455.81 279.5,460.8 272.41,472.29" fill="none" stroke="#000" stroke-width="3.2" stroke-linejoin="round" stroke-linecap="round"/>
<g style="will-change:transform"><text x="0" y="0" transform="translate(158.63 669.3) scale(0.9917 1)" font-weight="bold" font-size="49.2" stroke="#fff" stroke-width="1.2" fill="#161616">L</text>
<text x="0" y="0" transform="translate(201.18 668.3) scale(1.1410 1)" font-weight="normal" font-size="48.2" stroke="#fff" stroke-width="0.2" fill="#161616">(Length)</text>
<text x="0" y="0" transform="translate(420.88 669.3) scale(0.9739 1)" font-weight="bold" font-size="49.2" stroke="#fff" stroke-width="1.2" fill="#161616">=</text>
<text x="0" y="0" transform="translate(462.45 669.3) scale(1.1174 1)" font-weight="bold" font-size="49.2" stroke="#fff" stroke-width="1.2" fill="#161616">5-5/8in</text>
<text x="0" y="0" transform="translate(633.17 668.3) scale(1.0781 1)" font-weight="normal" font-size="48.2" stroke="#fff" stroke-width="0.2" fill="#161616">(143mm)</text>
<text x="0" y="0" transform="translate(206.58 729.3) scale(1.0182 1)" font-weight="bold" font-size="49.2" stroke="#fff" stroke-width="1.2" fill="#161616">W</text>
<text x="0" y="0" transform="translate(268.46 728.3) scale(1.1812 1)" font-weight="normal" font-size="48.2" stroke="#fff" stroke-width="0.2" fill="#161616">(Width)</text>
<text x="0" y="0" transform="translate(466.48 729.3) scale(0.9739 1)" font-weight="bold" font-size="49.2" stroke="#fff" stroke-width="1.2" fill="#161616">=</text>
<text x="0" y="0" transform="translate(507.26 729.3) scale(1.0356 1)" font-weight="bold" font-size="49.2" stroke="#fff" stroke-width="1.2" fill="#161616">1/2in</text>
<text x="0" y="0" transform="translate(621.34 728.3) scale(1.0544 1)" font-weight="normal" font-size="48.2" stroke="#fff" stroke-width="0.2" fill="#161616">(13mm)</text>
<text x="0" y="0" transform="translate(137.32 789.3) scale(0.9692 1)" font-weight="bold" font-size="49.2" stroke="#fff" stroke-width="1.2" fill="#161616">P</text>
<text x="0" y="0" transform="translate(182.64 788.3) scale(1.1192 1)" font-weight="normal" font-size="48.2" stroke="#fff" stroke-width="0.2" fill="#161616">(Projection)</text>
<text x="0" y="0" transform="translate(472.6 789.3) scale(1.0000 1)" font-weight="bold" font-size="49.2" stroke="#fff" stroke-width="1.2" fill="#161616">=</text>
<text x="0" y="0" transform="translate(513.36 789.3) scale(1.0608 1)" font-weight="bold" font-size="49.2" stroke="#fff" stroke-width="1.2" fill="#161616">1-3/8in</text>
<text x="0" y="0" transform="translate(676.84 788.3) scale(1.1200 1)" font-weight="normal" font-size="48.2" stroke="#fff" stroke-width="0.2" fill="#161616">(35mm)</text>
<text x="0" y="0" transform="translate(38.46 849.3) scale(0.9133 1)" font-weight="bold" font-size="49.2" stroke="#fff" stroke-width="1.2" fill="#161616">C</text>
<text x="0" y="0" transform="translate(85.48 848.3) scale(1.1075 1)" font-weight="normal" font-size="48.2" stroke="#fff" stroke-width="0.2" fill="#161616">(Center-to-Center)</text>
<text x="0" y="0" transform="translate(534.77 849.3) scale(1.0087 1)" font-weight="bold" font-size="49.2" stroke="#fff" stroke-width="1.2" fill="#161616">=</text>
<text x="0" y="0" transform="translate(578.21 849.3) scale(0.9955 1)" font-weight="bold" font-size="49.2" stroke="#fff" stroke-width="1.2" fill="#161616">5-1/16in</text>
<text x="0" y="0" transform="translate(759.04 848.3) scale(1.0524 1)" font-weight="normal" font-size="48.2" stroke="#fff" stroke-width="0.2" fill="#161616">(128mm)</text>
<text x="0" y="0" transform="translate(118.8 909.3) scale(0.9492 1)" font-weight="bold" font-size="49.2" stroke="#fff" stroke-width="1.2" fill="#161616">BL</text>
<text x="0" y="0" transform="translate(197.76 908.3) scale(1.0788 1)" font-weight="normal" font-size="48.2" stroke="#fff" stroke-width="0.2" fill="#161616">(Base Length)</text>
<text x="0" y="0" transform="translate(538.6 909.3) scale(1.0000 1)" font-weight="bold" font-size="49.2" stroke="#fff" stroke-width="1.2" fill="#161616">=</text>
<text x="0" y="0" transform="translate(580.19 909.3) scale(1.1371 1)" font-weight="bold" font-size="49.2" stroke="#fff" stroke-width="1.2" fill="#161616">5/8in</text>
<text x="0" y="0" transform="translate(705.4 908.3) scale(1.0675 1)" font-weight="normal" font-size="48.2" stroke="#fff" stroke-width="0.2" fill="#161616">(16mm)</text>
<text x="0" y="0" transform="translate(118.53 969.3) scale(1.0182 1)" font-weight="bold" font-size="49.2" stroke="#fff" stroke-width="1.2" fill="#161616">BW</text>
<text x="0" y="0" transform="translate(215.86 968.3) scale(1.1132 1)" font-weight="normal" font-size="48.2" stroke="#fff" stroke-width="0.2" fill="#161616">(Base Width)</text>
<text x="0" y="0" transform="translate(539.28 969.3) scale(0.9739 1)" font-weight="bold" font-size="49.2" stroke="#fff" stroke-width="1.2" fill="#161616">=</text>
<text x="0" y="0" transform="translate(580.81 969.3) scale(1.1314 1)" font-weight="bold" font-size="49.2" stroke="#fff" stroke-width="1.2" fill="#161616">5/8in</text>
<text x="0" y="0" transform="translate(705.4 968.3) scale(1.0675 1)" font-weight="normal" font-size="48.2" stroke="#fff" stroke-width="0.2" fill="#161616">(16mm)</text>
<text x="0" y="0" transform="translate(445.73 109) scale(0.9667 1)" font-weight="bold" font-size="55.2" stroke="#fff" stroke-width="1.2" fill="#000">L</text>
<text x="0" y="0" transform="translate(301.69 234.6) scale(1.1120 1)" font-weight="bold" font-size="55.2" stroke="#fff" stroke-width="1.2" fill="#000">W</text>
<text x="0" y="0" transform="translate(773.54 191.2) scale(0.9900 1)" font-weight="bold" font-size="55.2" stroke="#fff" stroke-width="1.2" fill="#000">P</text>
<text x="0" y="0" transform="translate(765.04 273.1) scale(1.0391 1)" font-weight="bold" font-size="55.2" stroke="#fff" stroke-width="1.2" fill="#000">BW</text>
<text x="0" y="0" transform="translate(520.6 453.2) scale(1.0000 1)" font-weight="bold" font-size="55.2" stroke="#fff" stroke-width="1.2" fill="#000">C</text>
<text x="0" y="0" transform="translate(231.62 547.5) scale(0.9701 1)" font-weight="bold" font-size="55.2" stroke="#fff" stroke-width="1.2" fill="#000">BL</text></g>
</svg>
</body></html>
